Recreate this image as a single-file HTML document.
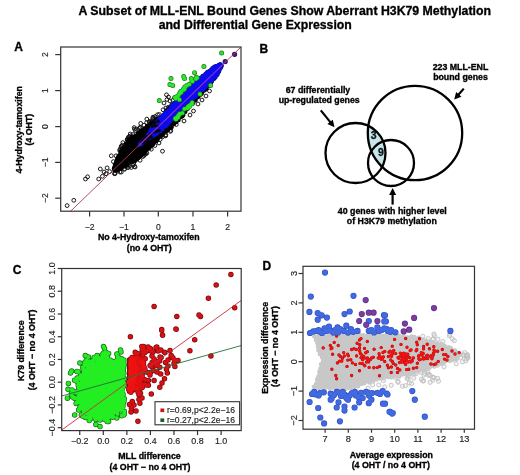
<!DOCTYPE html>
<html><head><meta charset="utf-8"><style>
html,body{margin:0;padding:0;background:#fff;width:520px;height:475px;overflow:hidden}
svg{display:block;will-change:transform}
text{font-family:"Liberation Sans", sans-serif}
</style></head><body><div id="w">
<svg width="520" height="475" viewBox="0 0 520 475">
<g><rect width="520" height="475" fill="#fff"/>
<text x="78.5" y="15" font-size="12.2" font-weight="bold" stroke="#000" stroke-width="0.32" text-anchor="start" fill="#000" textLength="412.5" lengthAdjust="spacingAndGlyphs">A Subset of MLL-ENL Bound Genes Show Aberrant H3K79 Methylation</text>
<text x="158.8" y="29.3" font-size="12.2" font-weight="bold" stroke="#000" stroke-width="0.32" text-anchor="start" fill="#000" textLength="193" lengthAdjust="spacingAndGlyphs">and Differential Gene Expression</text>
<text x="14.3" y="51.4" font-size="12" font-weight="bold" stroke="#000" stroke-width="0.32" text-anchor="start" fill="#000">A</text>
<text x="259.6" y="52.5" font-size="12" font-weight="bold" stroke="#000" stroke-width="0.32" text-anchor="start" fill="#000">B</text>
<text x="12.8" y="273.7" font-size="12" font-weight="bold" stroke="#000" stroke-width="0.32" text-anchor="start" fill="#000">C</text>
<text x="262.4" y="269.5" font-size="12" font-weight="bold" stroke="#000" stroke-width="0.32" text-anchor="start" fill="#000">D</text>
<path d="M174.4 124.5a1.9 1.9 0 1 0 3.8 0a1.9 1.9 0 1 0 -3.8 0M155.7 114.7a1.9 1.9 0 1 0 3.8 0a1.9 1.9 0 1 0 -3.8 0M128.3 134a1.9 1.9 0 1 0 3.8 0a1.9 1.9 0 1 0 -3.8 0M127.4 137.4a1.9 1.9 0 1 0 3.8 0a1.9 1.9 0 1 0 -3.8 0M151.1 117.2a1.9 1.9 0 1 0 3.8 0a1.9 1.9 0 1 0 -3.8 0M163.6 135.7a1.9 1.9 0 1 0 3.8 0a1.9 1.9 0 1 0 -3.8 0M168.5 131.4a1.9 1.9 0 1 0 3.8 0a1.9 1.9 0 1 0 -3.8 0M132.6 166.6a1.9 1.9 0 1 0 3.8 0a1.9 1.9 0 1 0 -3.8 0M149.4 149.2a1.9 1.9 0 1 0 3.8 0a1.9 1.9 0 1 0 -3.8 0M153 145.5a1.9 1.9 0 1 0 3.8 0a1.9 1.9 0 1 0 -3.8 0M152 118a1.9 1.9 0 1 0 3.8 0a1.9 1.9 0 1 0 -3.8 0M142.1 155.5a1.9 1.9 0 1 0 3.8 0a1.9 1.9 0 1 0 -3.8 0M122.7 169.2a1.9 1.9 0 1 0 3.8 0a1.9 1.9 0 1 0 -3.8 0M126.6 137.1a1.9 1.9 0 1 0 3.8 0a1.9 1.9 0 1 0 -3.8 0M160.6 136.9a1.9 1.9 0 1 0 3.8 0a1.9 1.9 0 1 0 -3.8 0M122.6 168.8a1.9 1.9 0 1 0 3.8 0a1.9 1.9 0 1 0 -3.8 0M126.2 167.3a1.9 1.9 0 1 0 3.8 0a1.9 1.9 0 1 0 -3.8 0M134.3 129.1a1.9 1.9 0 1 0 3.8 0a1.9 1.9 0 1 0 -3.8 0M164 108a1.9 1.9 0 1 0 3.8 0a1.9 1.9 0 1 0 -3.8 0M172.6 97.9a1.9 1.9 0 1 0 3.8 0a1.9 1.9 0 1 0 -3.8 0M132.6 129.1a1.9 1.9 0 1 0 3.8 0a1.9 1.9 0 1 0 -3.8 0M157.5 114.5a1.9 1.9 0 1 0 3.8 0a1.9 1.9 0 1 0 -3.8 0M126.1 167.5a1.9 1.9 0 1 0 3.8 0a1.9 1.9 0 1 0 -3.8 0M138.6 127.5a1.9 1.9 0 1 0 3.8 0a1.9 1.9 0 1 0 -3.8 0M161.2 109.8a1.9 1.9 0 1 0 3.8 0a1.9 1.9 0 1 0 -3.8 0M120.4 145.1a1.9 1.9 0 1 0 3.8 0a1.9 1.9 0 1 0 -3.8 0M127.5 166.3a1.9 1.9 0 1 0 3.8 0a1.9 1.9 0 1 0 -3.8 0M125.5 139.5a1.9 1.9 0 1 0 3.8 0a1.9 1.9 0 1 0 -3.8 0M138.2 160.3a1.9 1.9 0 1 0 3.8 0a1.9 1.9 0 1 0 -3.8 0M113 173.6a1.9 1.9 0 1 0 3.8 0a1.9 1.9 0 1 0 -3.8 0M132.3 127.6a1.9 1.9 0 1 0 3.8 0a1.9 1.9 0 1 0 -3.8 0M118.1 149.5a1.9 1.9 0 1 0 3.8 0a1.9 1.9 0 1 0 -3.8 0M148.9 121.1a1.9 1.9 0 1 0 3.8 0a1.9 1.9 0 1 0 -3.8 0M129.3 167.5a1.9 1.9 0 1 0 3.8 0a1.9 1.9 0 1 0 -3.8 0M141.1 156.5a1.9 1.9 0 1 0 3.8 0a1.9 1.9 0 1 0 -3.8 0M142.8 154.4a1.9 1.9 0 1 0 3.8 0a1.9 1.9 0 1 0 -3.8 0M163.7 135.8a1.9 1.9 0 1 0 3.8 0a1.9 1.9 0 1 0 -3.8 0M133.5 130.6a1.9 1.9 0 1 0 3.8 0a1.9 1.9 0 1 0 -3.8 0M157.1 143a1.9 1.9 0 1 0 3.8 0a1.9 1.9 0 1 0 -3.8 0M131 165.4a1.9 1.9 0 1 0 3.8 0a1.9 1.9 0 1 0 -3.8 0M153.2 116.5a1.9 1.9 0 1 0 3.8 0a1.9 1.9 0 1 0 -3.8 0M142.2 125.2a1.9 1.9 0 1 0 3.8 0a1.9 1.9 0 1 0 -3.8 0M119.3 146.2a1.9 1.9 0 1 0 3.8 0a1.9 1.9 0 1 0 -3.8 0M138.8 123.4a1.9 1.9 0 1 0 3.8 0a1.9 1.9 0 1 0 -3.8 0M128.6 136a1.9 1.9 0 1 0 3.8 0a1.9 1.9 0 1 0 -3.8 0M113.3 173.3a1.9 1.9 0 1 0 3.8 0a1.9 1.9 0 1 0 -3.8 0M137.5 128.5a1.9 1.9 0 1 0 3.8 0a1.9 1.9 0 1 0 -3.8 0M125.5 139.1a1.9 1.9 0 1 0 3.8 0a1.9 1.9 0 1 0 -3.8 0M130.9 134.5a1.9 1.9 0 1 0 3.8 0a1.9 1.9 0 1 0 -3.8 0M171 100.3a1.9 1.9 0 1 0 3.8 0a1.9 1.9 0 1 0 -3.8 0M168.9 130.5a1.9 1.9 0 1 0 3.8 0a1.9 1.9 0 1 0 -3.8 0M143.8 154a1.9 1.9 0 1 0 3.8 0a1.9 1.9 0 1 0 -3.8 0M133.2 167a1.9 1.9 0 1 0 3.8 0a1.9 1.9 0 1 0 -3.8 0M119.9 146.3a1.9 1.9 0 1 0 3.8 0a1.9 1.9 0 1 0 -3.8 0M166.4 107.3a1.9 1.9 0 1 0 3.8 0a1.9 1.9 0 1 0 -3.8 0M125.3 139.6a1.9 1.9 0 1 0 3.8 0a1.9 1.9 0 1 0 -3.8 0M150.9 118.5a1.9 1.9 0 1 0 3.8 0a1.9 1.9 0 1 0 -3.8 0M145 153.1a1.9 1.9 0 1 0 3.8 0a1.9 1.9 0 1 0 -3.8 0M147.5 122a1.9 1.9 0 1 0 3.8 0a1.9 1.9 0 1 0 -3.8 0M144.9 119.1a1.9 1.9 0 1 0 3.8 0a1.9 1.9 0 1 0 -3.8 0M158.2 139.5a1.9 1.9 0 1 0 3.8 0a1.9 1.9 0 1 0 -3.8 0M126.4 137.8a1.9 1.9 0 1 0 3.8 0a1.9 1.9 0 1 0 -3.8 0M164 134.8a1.9 1.9 0 1 0 3.8 0a1.9 1.9 0 1 0 -3.8 0M132 164.4a1.9 1.9 0 1 0 3.8 0a1.9 1.9 0 1 0 -3.8 0M147.6 121.7a1.9 1.9 0 1 0 3.8 0a1.9 1.9 0 1 0 -3.8 0M119.1 147.7a1.9 1.9 0 1 0 3.8 0a1.9 1.9 0 1 0 -3.8 0M118.1 172a1.9 1.9 0 1 0 3.8 0a1.9 1.9 0 1 0 -3.8 0M144.7 122.7a1.9 1.9 0 1 0 3.8 0a1.9 1.9 0 1 0 -3.8 0M138 127.4a1.9 1.9 0 1 0 3.8 0a1.9 1.9 0 1 0 -3.8 0M180.5 92.5a1.9 1.9 0 1 0 3.8 0a1.9 1.9 0 1 0 -3.8 0M65.2 205.6a1.9 1.9 0 1 0 3.8 0a1.9 1.9 0 1 0 -3.8 0M71.9 200.3a1.9 1.9 0 1 0 3.8 0a1.9 1.9 0 1 0 -3.8 0M85.7 176.8a1.9 1.9 0 1 0 3.8 0a1.9 1.9 0 1 0 -3.8 0M83.6 179a1.9 1.9 0 1 0 3.8 0a1.9 1.9 0 1 0 -3.8 0M96.8 179a1.9 1.9 0 1 0 3.8 0a1.9 1.9 0 1 0 -3.8 0M98.4 169a1.9 1.9 0 1 0 3.8 0a1.9 1.9 0 1 0 -3.8 0M105.2 167.9a1.9 1.9 0 1 0 3.8 0a1.9 1.9 0 1 0 -3.8 0M109.4 155.8a1.9 1.9 0 1 0 3.8 0a1.9 1.9 0 1 0 -3.8 0M114.1 155.8a1.9 1.9 0 1 0 3.8 0a1.9 1.9 0 1 0 -3.8 0M111.5 161.6a1.9 1.9 0 1 0 3.8 0a1.9 1.9 0 1 0 -3.8 0M100.5 176.3a1.9 1.9 0 1 0 3.8 0a1.9 1.9 0 1 0 -3.8 0M104.1 173.7a1.9 1.9 0 1 0 3.8 0a1.9 1.9 0 1 0 -3.8 0M107.8 171.6a1.9 1.9 0 1 0 3.8 0a1.9 1.9 0 1 0 -3.8 0M112.6 173.7a1.9 1.9 0 1 0 3.8 0a1.9 1.9 0 1 0 -3.8 0M119.4 172.1a1.9 1.9 0 1 0 3.8 0a1.9 1.9 0 1 0 -3.8 0M117.8 150.5a1.9 1.9 0 1 0 3.8 0a1.9 1.9 0 1 0 -3.8 0M121 142.6a1.9 1.9 0 1 0 3.8 0a1.9 1.9 0 1 0 -3.8 0M116.1 162a1.9 1.9 0 1 0 3.8 0a1.9 1.9 0 1 0 -3.8 0M102.1 172a1.9 1.9 0 1 0 3.8 0a1.9 1.9 0 1 0 -3.8 0M160.6 151.2a1.9 1.9 0 1 0 3.8 0a1.9 1.9 0 1 0 -3.8 0M164.6 94.8a1.9 1.9 0 1 0 3.8 0a1.9 1.9 0 1 0 -3.8 0M166.6 97a1.9 1.9 0 1 0 3.8 0a1.9 1.9 0 1 0 -3.8 0M168.1 101a1.9 1.9 0 1 0 3.8 0a1.9 1.9 0 1 0 -3.8 0M170.1 104.5a1.9 1.9 0 1 0 3.8 0a1.9 1.9 0 1 0 -3.8 0M165.1 99.5a1.9 1.9 0 1 0 3.8 0a1.9 1.9 0 1 0 -3.8 0M162.1 103a1.9 1.9 0 1 0 3.8 0a1.9 1.9 0 1 0 -3.8 0M196.1 104a1.9 1.9 0 1 0 3.8 0a1.9 1.9 0 1 0 -3.8 0M200.1 100a1.9 1.9 0 1 0 3.8 0a1.9 1.9 0 1 0 -3.8 0M204.1 96a1.9 1.9 0 1 0 3.8 0a1.9 1.9 0 1 0 -3.8 0M207.6 91a1.9 1.9 0 1 0 3.8 0a1.9 1.9 0 1 0 -3.8 0M182.1 121a1.9 1.9 0 1 0 3.8 0a1.9 1.9 0 1 0 -3.8 0M188.1 115a1.9 1.9 0 1 0 3.8 0a1.9 1.9 0 1 0 -3.8 0M191.6 111a1.9 1.9 0 1 0 3.8 0a1.9 1.9 0 1 0 -3.8 0" fill="none" stroke="#181818" stroke-width="1.0"/>
<path d="M148.7 128.4h0M183.6 95.3h0M171.3 113.8h0M120.2 160.8h0M118 162.7h0M121.5 151.8h0M159.4 134.3h0M127.2 146.9h0M181.1 117h0M175.8 110.4h0M218.5 65.8h0M205.9 78.3h0M129.4 142h0M147 146.1h0M133.3 151.4h0M182.4 103.1h0M172.6 106.2h0M120.4 155.5h0M186.8 98.6h0M147.6 139.9h0M162.5 120.2h0M199 91.4h0M140.1 146.2h0M170.2 125.6h0M192.1 90.8h0M218.9 66h0M158.7 133.4h0M130.3 150.9h0M118.2 165.5h0M195.8 92.4h0M207.7 77h0M188.4 100.2h0M176 111.4h0M203.9 90.3h0M164.7 125.9h0M120.5 163.8h0M183.2 114.9h0M201.9 81.7h0M155.3 134.6h0M116.4 165.3h0M132 140.1h0M120.3 165.1h0M127.8 146.9h0M155.8 138.7h0M122.6 157.1h0M172.8 123.6h0M201.7 91.4h0M143.8 139h0M152.4 142.4h0M216.5 67.7h0M132.9 142.5h0M139 144.7h0M177 106.3h0M114.4 168.3h0M153.5 133.9h0M216 73.1h0M169.2 121.1h0M186.4 91.8h0M210.3 80.8h0M207.6 84.1h0M156 127.8h0M125.1 158.5h0M120.7 152.7h0M136.3 138.1h0M150.4 124.5h0M114 168.4h0M124.9 152.6h0M116.7 169.3h0M179.7 101.3h0M141 139.5h0M153 124h0M204.8 90.1h0M163.9 122.9h0M123.2 149.4h0M150.7 129.3h0M202.7 79.1h0M116.5 170.2h0M170.5 109.9h0M172.1 105.9h0M170.5 127.6h0M206.4 83.9h0M141.9 139.3h0M131.9 157.2h0M171 122.9h0M149.3 129.6h0M200.8 94.3h0M205.2 86.8h0M201.6 89.5h0M138.3 146.1h0M152 122.5h0M117 162.4h0M141.7 147.8h0M216.3 70.4h0M214.3 78.5h0M216.2 69.8h0M137.6 138.9h0M135 140.1h0M180.8 116.4h0M203.9 83h0M183.9 110h0M123.1 160.9h0M211.3 79.6h0M194.3 92.2h0M133.1 157h0M149.6 143.2h0M218 68.5h0M156.9 139.3h0M191.6 89.1h0M127.6 144.8h0M210.8 80.5h0M129.6 159.8h0M218.9 69.3h0M151.5 135.3h0M128 141h0M217.9 70.4h0M170.3 126.7h0M160.4 134.3h0M202.4 80.1h0M140.9 138.2h0M139.7 146.8h0M141.8 140.8h0M128 162.8h0M151.9 132.9h0M176.4 120.7h0M159 136.7h0M167.7 120.5h0M170 107.6h0M161.1 118.8h0M114.4 169.8h0M132.4 149.1h0M191.6 96.3h0M148.9 137h0M173.4 120.9h0M125.4 156.6h0M140.6 138.1h0M196.6 90.4h0M174.1 119.8h0M211.6 75h0M179.5 109.1h0M168.8 123h0M162.4 125.2h0M165.1 131.3h0M188.8 105.2h0M214.8 69.9h0M173.9 124h0M203.9 77.7h0M127 152.3h0M121.8 154.2h0M121.8 162.1h0M197.9 96h0M130.5 156.5h0M184.6 95.6h0M208.5 85.5h0M137.5 158.2h0M156.6 129.2h0M219.9 68.5h0M131.3 148.7h0M169.2 115.2h0M134.9 143.3h0M191.3 86.5h0M173.3 113.7h0M115.9 164.7h0M180.8 108.1h0M120.9 168.5h0M198.4 96.8h0M125.2 150h0M118.2 167h0M142.9 132.4h0M159.2 136.4h0M201.6 81.6h0M130 161.9h0M175.1 117.6h0M123.6 147.9h0M187.6 97.7h0M121.7 167.2h0M181.9 112.8h0M123 164.9h0M121.1 166.2h0M162.6 121h0M173.2 124.2h0M142.7 132.6h0M170.4 111.9h0M125.7 147.1h0M119.4 157.1h0M147.4 133.2h0M195.3 87.8h0M167.5 113.2h0M151.1 123.1h0M140.8 131.1h0M192.4 95.4h0M134.3 147.9h0M214 68.8h0M201.6 84.4h0M167 127.5h0M156.1 130.2h0M187.6 108.6h0M150.7 142.9h0M189.6 99.8h0M157.3 125.5h0M119.8 155.1h0M121.6 163.7h0M141.3 134.5h0M123 164.5h0M207.1 82.7h0M144.2 134.3h0M145.4 138.7h0M130.9 149.4h0M142.2 154.3h0M218.1 69.5h0M140.2 156.3h0M147.1 134.7h0M114.1 168.8h0M164.8 122.5h0M135.5 147.9h0M114.5 167.5h0M123.6 154.9h0M118.5 156.3h0M146.6 132.1h0M176.7 112.4h0M194.3 95.4h0M190.6 103.4h0M155.7 126.4h0M219.4 66.1h0M191.5 98h0M118.7 167.4h0M209.4 79.6h0M192.5 100.1h0M128.9 152.6h0M168 126.7h0M200.1 92.4h0M176.5 120.4h0M187.1 103.5h0M138.6 133.1h0M128.2 149.2h0M125.2 162.9h0M173.8 117.3h0M181 111.5h0M166.4 110.6h0M199.4 91.9h0M167.8 120.5h0M184.5 94.2h0M192.8 89.4h0M122 154.4h0M192 89.3h0M193.2 102.5h0M166.9 118.1h0M165.3 125.8h0M196.1 92.9h0M182.8 96.4h0M129.8 145.2h0M193.5 89.7h0M174.8 103.1h0M120.5 156.4h0M185.9 105h0M186.3 96.6h0M169.3 117.7h0M163.9 115.3h0M209.6 73.6h0M218.7 71.3h0M115.9 166h0M201.7 93.1h0M162.1 119.8h0M136.5 158.9h0M136.5 149.1h0M129.2 152.4h0M215.9 67.9h0M201.8 85.5h0M208.9 81.3h0M138.8 155.7h0M166 111.4h0M114.4 168.7h0M162.2 120.4h0M129.1 148h0M147.8 145.9h0M114.2 169.8h0M203.8 77.5h0M213.1 76.7h0M210.5 74.1h0M153.8 129.5h0M220.9 66.5h0M152.6 131.5h0M143.4 130h0M124.9 163.1h0M144.6 151.3h0M140.7 137.7h0M168.7 112.5h0M153.9 142.5h0M208.6 83.1h0M181.5 115.7h0M214.7 73.2h0M191 87.4h0M192.4 93.6h0M194.5 95h0M144.6 129.1h0M213.2 69.7h0M164.5 119.4h0M145.9 145.2h0M218.5 67.2h0M184.2 99.4h0M173.6 112.4h0M131.9 141.3h0M136.2 158.1h0M167.2 114.4h0M211 82.8h0M162.1 117.1h0M134.6 137.4h0M150.6 125.3h0M139.6 138.3h0M174.9 121.7h0M194.2 91.1h0M158.3 128.6h0M154.3 127.8h0M120.6 156.4h0M217.5 66.8h0M167.9 122.4h0M206.3 76.8h0M143 135.4h0M156.8 128.2h0M216.1 74.4h0M207.4 73h0M117.5 166.8h0M209.8 77.1h0M176.8 100.9h0M155.9 139.9h0M202.3 90.6h0M218 67.4h0M125.7 147h0M169.9 121.8h0M214.7 74.9h0M183.3 110.1h0M162.9 125.1h0M118.2 167h0M138.9 156.2h0M183.1 100.8h0M127.7 147.1h0M182.1 110.4h0M126 144.7h0M170.1 119.5h0M155.5 124.1h0M178.3 99.6h0M146.3 138h0M216.6 71.9h0M208.6 78.4h0M139.1 138.4h0M216.8 72.2h0M146.9 126.7h0M167.3 123.9h0M158.9 122.1h0M185.4 110.4h0M138.3 133.4h0M150.2 133.5h0M187 93.9h0M199.3 91.8h0M168 113.4h0M217.8 68.1h0M201.7 81h0M137.7 153h0M145.6 150.8h0M167 113.9h0M137.9 143.7h0M185.2 111.2h0M129.7 148.8h0M136.8 159.4h0M129.2 140.6h0M120.4 158.6h0M210.1 82.3h0M192.4 103.7h0M213.7 71.6h0M133.8 160.5h0M193.9 84.4h0M185.1 99.8h0M154 127.9h0M132.1 137h0M143.9 137.2h0M216.2 67.6h0M217.2 67.7h0M152.2 141.1h0M202 84.1h0M119.3 161.5h0M153.9 141.7h0M134.7 144.7h0M210 71.1h0M158 135.3h0M196 82.6h0M117.7 158.4h0M212.4 71.9h0M194 100.2h0M150.3 129.9h0M216.5 71.8h0M142.1 148.1h0M147.9 132.1h0M114.4 169.7h0M212.1 76.9h0M214.9 67.4h0M139 144.4h0M216.4 74.9h0M155.4 124.9h0M160 126.4h0M213.3 70.2h0M199.9 91.2h0M202 89.5h0M179 105.8h0M148.2 133.9h0M197.7 81.9h0M135.1 154.9h0M140.5 132.7h0M117.6 164.7h0M148.9 148.2h0M208.5 85.7h0M142.3 131.7h0M124.3 156.2h0M189.9 95.9h0M139.1 142.9h0M180.4 111.9h0M194 99.2h0M185.1 94.6h0M204 80h0M174.7 111h0M193 88.3h0M140.5 137.3h0M130.4 160.8h0M175.9 108.8h0M156.4 140.9h0M168.3 113.7h0M200.5 89.1h0M220 65.9h0M164.8 129.1h0M203.9 89.8h0M118.3 160.3h0M126.8 146.6h0M218.1 69.7h0M213.5 72.3h0M206.7 79.9h0M141.8 149.9h0M215.2 68.1h0M177.8 113.3h0M137.3 142.9h0M129.1 144.4h0M141.3 145.8h0M183.7 97.9h0M115.2 166.2h0M186.6 94.2h0M147.4 130.7h0M199.1 88.7h0M120.8 153.1h0M156.3 130.9h0M182.4 97.2h0M131.5 155.4h0M157.8 123.6h0M146.9 149.5h0M147.4 139.6h0M152.2 131.5h0M206.5 88.3h0M152.9 125.7h0M191.9 89.4h0M114.6 170.2h0M159.3 134.2h0M157.5 137.4h0M163.3 116.6h0M115.6 167.3h0M182.6 114.2h0M123.5 159.7h0M153.7 132.3h0M129.6 146.1h0M169.8 127.1h0M125.6 154.7h0M200.1 94.8h0M135.1 138h0M214.9 77.4h0M165.7 112.3h0M213.1 72.9h0M210.8 78.1h0M202.2 79.4h0M198.1 84.1h0M157.3 136.7h0M202.7 79.4h0M137.3 143.7h0M169.4 115.9h0M127.2 147.5h0M191.6 102.7h0M118.4 163.9h0M195 83.4h0M203.7 77.5h0M178.1 111.4h0M181.1 103.3h0M158.9 129.3h0M159.6 130.5h0M161.8 123.7h0M116.5 166.8h0M166.4 115.5h0M195.7 96.2h0M163 117.2h0M164.6 114.4h0M127.7 151.4h0M123.8 155.6h0M168.6 109.4h0M182.1 97.3h0M192.5 99.5h0M168.7 109.5h0M167.9 117.1h0M215.7 68h0M205.7 89.1h0M192.3 100.4h0M134.7 161.3h0M166.6 130.4h0M212 71.1h0M198.4 96.1h0M121 157.2h0M194.9 85.8h0M209.9 74.4h0M201.3 80h0M167.7 128.7h0M136.3 140.8h0M168.1 115.7h0M117.9 159.5h0M131.3 161.8h0M186.7 107.9h0M132.1 157.4h0M126.3 155.1h0M182.1 103.2h0M207.4 80.8h0M176.1 120.6h0M125.2 166.5h0M181.4 104.8h0M199.4 83.7h0M220 67.5h0M152.5 139.4h0M161.3 118.5h0M193.6 85h0M201.7 81.4h0M182.4 115.9h0M176.7 115.3h0M147.5 125.8h0M117.6 159.7h0M179.9 107.2h0M168.9 127.2h0M128.1 146h0M183.9 94h0M114.3 168.4h0M125.4 151.9h0M138 148.1h0M177 105h0M180.8 107.3h0M128.4 163.2h0M140.1 135.2h0M124.3 159.3h0M207.2 84.3h0M157 123.9h0M115.2 168.4h0M174.2 110.9h0M183.1 103.7h0M214.3 75.6h0M140.6 154.3h0M118.7 163.1h0M157.4 122.9h0M120.2 165.3h0M115.3 167.6h0M214.7 68.7h0M135.3 150.8h0M168.2 122.4h0M201 80.7h0M147.1 133.4h0M119.2 167.9h0M197.8 92.9h0M114.7 169.9h0M193.7 92.5h0M193.4 92.6h0M138.2 135.3h0M138.9 133.1h0M149.9 141.6h0M188.4 105.1h0M190.2 92.2h0M173.3 113.6h0M198.4 89h0M142.4 145.9h0M217.3 67.7h0M208.2 72.3h0M141.9 136h0M193.6 101.4h0M193.8 89.8h0M208.2 76.7h0M139.6 155.3h0M181.5 111.1h0M185.2 111.8h0M164.2 130h0M188.6 105h0M160.8 130.8h0M175 109.2h0M136.7 150.1h0M122.3 166.4h0M129.5 139.7h0M125.4 164.9h0M150.9 126.2h0M117.1 159.6h0M188.1 101.3h0M188.6 102.8h0M121 161.4h0M152.9 140.3h0M201.7 91.8h0M121.1 166.3h0M211.8 81h0M125.5 148.4h0M126 143.9h0M204.7 87.4h0M181.9 113.4h0M181.6 102.3h0M124.7 147h0M195 86.5h0M148.1 135.4h0M116.2 163.5h0M144.2 146.1h0M153.4 128.2h0M217.1 70.1h0M205.1 84h0M117.3 163.4h0M160.7 131.9h0M151.1 139.4h0M171.6 110.4h0M206.3 74.9h0M201.7 80h0M114.1 168.2h0M195.6 100h0M114.5 168.5h0M166.6 127.1h0M133.7 148.8h0M151.1 142.4h0M141.9 154.1h0M144.4 133.4h0M188.8 97.9h0M125.8 158h0M122.7 163.7h0M188.6 103.7h0M181.2 104.2h0M156.9 126.9h0M209.3 72.4h0M209.1 71.7h0M136.1 141h0M210.4 76.9h0M154.6 140.2h0M139 144.1h0M170.9 122.5h0M194.6 95h0M151.3 130.3h0M130.6 159.7h0M184.8 107.5h0M132.1 148.4h0M196.8 91.6h0M127.5 152.4h0M208.7 75h0M134.5 143.1h0M189.2 104.2h0M130.5 142.2h0M140.5 139.4h0M169.9 110.8h0M149.1 128.9h0M218.3 70.4h0M124.9 166h0M124.9 153.1h0M219.3 69.5h0M192.5 93.2h0M135 151.9h0M125.4 148.5h0M155.6 119.8h0M156.7 136.1h0M188.2 98.6h0M181.7 105.9h0M129.2 154.4h0M157.3 134.4h0M211.2 75.3h0M175.4 118.3h0M159.1 121.4h0M191.3 102.7h0M196.8 93.6h0M205.2 84.8h0M182.6 104.5h0M147.5 141h0M124.5 154.3h0M197.7 93h0M181.4 101.8h0M159.3 126.2h0M180.5 106.1h0M186.3 109.3h0M133.6 153.1h0M197.3 87.7h0M166.4 130.9h0M118.1 164h0M131.2 157.8h0M214.6 72.8h0M124.8 157.4h0M171.9 120.8h0M168.8 121.8h0M202.7 84.8h0M157.9 138.4h0M136.5 151.9h0M156 136.1h0M127.1 165.2h0M152 123.2h0M143.4 138.9h0M115.4 166.5h0M159 131.8h0M151.7 128.4h0M138 152.2h0M214.6 73h0M137.4 154.3h0M155.9 123.5h0M127.8 159.7h0M200.6 88.7h0M164.2 124.2h0M138.2 158h0M151.8 137.2h0M201.6 90.7h0M164.1 118.8h0M172.7 107.5h0M203.2 81.7h0M205 78.7h0M154.2 125.9h0M159.6 120.1h0M114.3 169.6h0M144.1 134.4h0M146.3 138.4h0M159.8 129.7h0M184.5 100.2h0M213.4 78.1h0M120.1 166.3h0M210.9 80.1h0M129 160.2h0M181.7 96.3h0M115.2 170.5h0M184.2 98.3h0M124.9 147.7h0M139 152.3h0M151.1 126.3h0M210.7 80.4h0M132 160.2h0M179.1 115.5h0M185.5 109.6h0M198.3 94.5h0M135.1 153.3h0M170.8 122.3h0M160.9 134h0M173.4 109.8h0M139.1 135.6h0M166.8 111.4h0M164 115.7h0M166.6 120.8h0M171.7 124.1h0M114.7 169.9h0M164.1 124.3h0M185.2 109h0M154.1 129.9h0M216.8 66.9h0M182.2 108.9h0M117.1 166.1h0M187 108.2h0M149.4 147.8h0M168.6 118.7h0M210 71.1h0M190.8 98.3h0M150.2 144h0M153.2 132h0M170.2 123.4h0M136.5 145.2h0M159.2 128.5h0M202.5 81.4h0M202.6 83.1h0M167.9 114.9h0M168.2 129.4h0M184 109.6h0M149.4 131.7h0M146 141.3h0M181.9 112.4h0M118.3 166.2h0M208.8 79.2h0M119.3 158.7h0M114.7 166.8h0M212.6 76h0M184.4 109h0M211.4 77.4h0M180 111.3h0M188.5 100.2h0M186.9 94.4h0M185.4 101.1h0M195.6 84.1h0M133.4 136.9h0M196.9 97.4h0M184.2 100.8h0M202 89.8h0M174.1 109h0M146.3 137h0M148.1 135.7h0M182.7 114.5h0M119.8 162.2h0M118.2 158.2h0M200.7 87.6h0M212.3 74.4h0M115.5 166.1h0M177.3 120.5h0M218.9 68.1h0M158.1 119.3h0M183 99h0M130.2 138.8h0M114.5 169.3h0M127 164.8h0M123.4 164.9h0M127.8 141.3h0M191 91h0M192.5 88.5h0M119.4 166h0M190.4 103.2h0M192.1 87h0M181.3 111.7h0M163.3 132.8h0M141.2 155.3h0M190.7 86.9h0M115.6 168.1h0M201.5 78.8h0M147.3 143.7h0M131.8 159.5h0M166 112.1h0M153.3 134.2h0M160.9 129.6h0M129.5 159.1h0M152.9 136.3h0M181.4 105.3h0M155.3 137.3h0M215.1 75.1h0M174.6 109.2h0M120.5 168.5h0M189.2 103.8h0M149.5 138.5h0M218.6 70.8h0M178.3 106h0M159.9 135.2h0M154.3 135.9h0M178.4 118.6h0M200.4 83.1h0M114.2 168.3h0M159.2 129.2h0M201.3 92.2h0M118.5 167.5h0M200.9 92.3h0M175.2 108.3h0M205.1 86.9h0M187.3 107.6h0M151.1 124.7h0M173.2 121.4h0M135.4 154.5h0M213.7 70.5h0M178.9 113.4h0M163.8 117.2h0M141.3 149.7h0M198.7 87.6h0M123.4 163.6h0M196.6 85.5h0M176 120.9h0M208.7 79h0M165 124.1h0M134.2 140.4h0M133.3 154.5h0M152.8 134.5h0M157.1 129.5h0M129.9 139.8h0M220.7 66.4h0M125.4 158.2h0M198.2 82.8h0M177.9 107.2h0M169.6 108h0M117.6 170.1h0M206.7 80.5h0M174.7 108.5h0M197.4 88.3h0M215.3 74.7h0M201.6 93.1h0M141.2 131.4h0M135.5 139.2h0M123 148.7h0M173.6 122.6h0M163 133.4h0M211.4 70.4h0M178 108.3h0M126.8 164.7h0M141.5 144.7h0M182.5 115.2h0M185.7 99.4h0M162 117.6h0M217.3 73.8h0M137.7 133.9h0M141.4 139.3h0M210.6 82h0M203.6 76.5h0M198.1 92.5h0M183.2 114.8h0M120 155.1h0M194.8 100.1h0M186.4 96.6h0M177.3 116.7h0M125.3 151.3h0M141.5 133.4h0M165.5 114.9h0M139.5 135.4h0M186.5 90.9h0M190.7 90.3h0M117.9 169.2h0M137.6 157.7h0M206.7 86.4h0M129 150.7h0M124.4 165.5h0M204.1 85.1h0M162.4 121.1h0M202.1 84.7h0M181.2 99.6h0M137.7 134.3h0M190.4 97.5h0M129.5 161h0M142.5 139.9h0M130.7 145h0M203.8 80.8h0M132 149.8h0M148 147.2h0M126.2 165.6h0M120.1 167.4h0M185.5 96h0M165.1 117.7h0M141.6 135.3h0M153 144.3h0M220.8 67h0M124.4 151.5h0M209.9 71.5h0M191.7 91.2h0M218.7 65.5h0M200.4 84.1h0M129 139.5h0M203.1 84.6h0M133.9 147.1h0M211.6 72.2h0M175.1 105.5h0M133.3 156.4h0M190.1 90.9h0M122.5 150.2h0M179.1 109.3h0M143.3 134.1h0M179.5 113.5h0M200.8 87.6h0M135.6 136h0M192.4 92.7h0M191.2 87.3h0M200.7 83.6h0M204.1 88.9h0M166.8 110.5h0M211.4 75.6h0M207.3 76.6h0M133.9 157.7h0M153.3 124.6h0M153.7 134.3h0M114.5 168.6h0M161.7 125.4h0M126.9 158.9h0M201.4 91.8h0M148.3 142.2h0M154.8 136.9h0M120.5 166.7h0M216.1 71.1h0M168.9 119.4h0M171.5 106.3h0M217.5 67.6h0M133.5 138.6h0M140.8 151.8h0M117.2 159.9h0M188.8 92.2h0M115.9 167.3h0M175.7 113.2h0M189.2 90h0M207 83.5h0M118.8 157h0M166.8 120.7h0M143.9 131.5h0M157.4 120.7h0M177.3 118.9h0M129.8 153.3h0M193.9 86.8h0M202.4 91.8h0M155.6 128.6h0M203.9 83.8h0M156.3 139.8h0M197.1 86.9h0M139.7 140.2h0M160.6 136.5h0M200.1 93.9h0M201.2 91.6h0M119.7 161.5h0M216.5 74.6h0M140.7 141.7h0M181.7 103.8h0M170.8 108h0M160.3 126.4h0M116.2 162.3h0M217.8 71.5h0M214.3 74.5h0M200.6 92.9h0M208.7 72.2h0M182.6 100.5h0M186.6 95.9h0M172 125.1h0M180.5 102.7h0M169.7 116.7h0M215.7 69.5h0M146.7 142.2h0M126.9 156.1h0M216.3 71.1h0M142.7 141.2h0M171.1 109.4h0M127.3 144.7h0M145.4 137.4h0M144.8 133.8h0M123.4 158.2h0M203.9 85.1h0M175 116.6h0M135.5 153.4h0M163.3 124.7h0M179.6 108.3h0M147.2 131.8h0M137.7 146.4h0M155 132.9h0M115.3 166.3h0M206.2 77.2h0M173.6 114.5h0M144.5 152.7h0M145.6 146.3h0M131 139.6h0M207.2 79.3h0M120.6 158.3h0M161.1 130.7h0M125.7 148.6h0M216.6 72.7h0M130.5 146.8h0M151.7 138.1h0M179.9 116.1h0M201.9 85.6h0M193 98.3h0M195.3 91.1h0M198 92.6h0M211.9 70.8h0M207.2 72.9h0M195.9 92.5h0M167.3 130h0M175.2 111.4h0M197.9 95.6h0M179 106.9h0M162.4 123.6h0M191.4 91.6h0M155.8 131.5h0M155.1 126.7h0M198.2 94.8h0M167.5 118.9h0M133.7 143.8h0M129.5 153.5h0M176.2 103.3h0M212.5 72.7h0M204.2 88.3h0M216.6 68.1h0M159.6 135.9h0M115.1 164.6h0M174.4 113.8h0M212.5 78.2h0M171.6 127h0M169.4 118.8h0M187.3 97.3h0M152.3 135.7h0M151.6 144.7h0M186.4 101.1h0M124.6 153.2h0M156.9 130.7h0M175.4 121.1h0M217.2 69.9h0M161.1 128.3h0M220.6 66.4h0M170.7 123.9h0M132.3 145.1h0M218.7 70.6h0M168.8 110.6h0M209.7 80.2h0M201.8 93.3h0M209 77.2h0M130.7 145.5h0M168.7 119h0M134.1 140.2h0M181.4 109.2h0M151.8 145.6h0M182.1 96.5h0M158 134.7h0M146.8 143.2h0M114.4 167.9h0M204.1 84.5h0M185.5 95.7h0M167.3 121.4h0M142.5 146h0M170.9 127.7h0M175.5 111h0M127 145.6h0M195.3 84.5h0M124.7 148.5h0M169.9 124.8h0M179.6 115.5h0M120.6 151.7h0M196.5 87.3h0M190.6 93.5h0M132.1 143.9h0M124.6 164.8h0M176.3 108.9h0M162.1 122.3h0M119.9 167.5h0M176.3 121.9h0M161 128.3h0M140.7 132h0M213.6 77.8h0M147.7 147.4h0M201.3 82.6h0M178.5 119.9h0M167 129.9h0M140 141.5h0M190.9 90.7h0M147.1 147.5h0M165.8 127.6h0M140 135.8h0M152.3 126h0M218 67.8h0M174.1 106h0M171.1 114.4h0M157.1 119.3h0M127.2 161.3h0M151.6 128h0M134.5 142.7h0M139.4 132.7h0M185.1 99.1h0M130.7 156.1h0M123.9 151.8h0M203.3 78h0M161.4 132.6h0M200.1 81.2h0M151.8 139.2h0M154.3 142.2h0M136.3 159.2h0M168 113.8h0M162.4 116.6h0M189.6 92.7h0M210.3 78.2h0M153.4 126.5h0M179.1 103.3h0M207.3 74.5h0M168.9 119.7h0M142.9 148.7h0M155.2 134.4h0M174.7 109.5h0M155.7 120.8h0M132.9 158.7h0M148.4 141h0M125.7 156.4h0M152.7 133.1h0M145.8 128.6h0M147.3 131.4h0M127.5 158.5h0M144.2 138.3h0M211.3 79.6h0M208.5 84h0M128.1 147.2h0M117.2 166.7h0M185 99.4h0M158.1 131.7h0M188.8 93.2h0M204.6 80.4h0M181.3 100.4h0M126.3 164h0M192.5 98.3h0M118.3 156.8h0M131.3 142.7h0M146.4 135.9h0M118.2 160.8h0M182.3 99.1h0M203.8 84.5h0M190.7 91.5h0M160.5 130.1h0M151.3 122.5h0M203.3 88.3h0M144.6 128.9h0M205.4 83.6h0M119.1 158.3h0M125.9 161.4h0M136.5 158.1h0M194.2 85.1h0M188.3 96.4h0M194 98.9h0M144.1 130.5h0M215.3 71.2h0M213.5 76h0M193 99.9h0M181.2 106.3h0M119.8 164.4h0M159.8 127h0M213.3 69.6h0M195.5 83.1h0M189.2 103.5h0M141.9 143.9h0M217.7 70.5h0M172.2 110.6h0M120.4 158.1h0M158 121.6h0M147.2 129.2h0M189.6 100.4h0M139.5 138h0M169.1 117.4h0M214.1 71.5h0M146 148.7h0M129.2 153.4h0M149.7 143.4h0M172.7 121.1h0M132.1 154.3h0M178.1 109.6h0M196 96.9h0M126.2 149.5h0M152.6 126.3h0M120.5 156.7h0M135.1 153.5h0M161.9 116.6h0M148.7 136h0M152.8 125.1h0M121.7 150h0M220.2 67.8h0M123 162.1h0M218.9 68.7h0M125.6 154.7h0M160.5 119.5h0M172.1 105.5h0M212.4 76.7h0M181.2 116.7h0M183.8 98.8h0M140.3 134.7h0M117 168h0M203.8 80.2h0M133.9 152.5h0M204.5 89.4h0M132 157.4h0M202.9 88.2h0M149 128.9h0M202.3 81.9h0M153.4 133.6h0M153.5 140h0M139.6 132.7h0M174.7 116.4h0M201.7 88.8h0M210.9 82.2h0M166.9 120.6h0M130.9 145.6h0M176.2 103.2h0M187.6 92.7h0M161.4 135.4h0M123.6 147.5h0M161 119h0M191.4 86.1h0M204 88.8h0M198.2 87.5h0M144.3 144.7h0M169.1 117h0M150.2 133.9h0M185.3 108.6h0M210.7 72.2h0M145.6 138.1h0M174.3 110.8h0M134.9 137h0M148.6 135.9h0M217.9 72.2h0M206.6 87.8h0M216.9 71.3h0M200.8 79h0M186.4 102.8h0M145.8 141.1h0M216 71.1h0M183.3 100.5h0M150.7 144.1h0M117 161.4h0M186.6 99.3h0M123.1 160.8h0M153.8 133.9h0M158.6 128.5h0M174.4 111.7h0M126.2 147h0M209.2 78.8h0M126 163h0M141.1 132.9h0M170.8 111.9h0M166.4 122.2h0M138.2 147.6h0M126.1 154.9h0M177 102.4h0M157.7 119.1h0M161 133.5h0M172.9 119.9h0M195 84.9h0M220 68h0M124.9 163h0M155.9 122.6h0" stroke="#000" stroke-width="4.6" stroke-linecap="round"/>
<path d="M190.2 97.3h0M167.2 112.1h0M153.2 128.1h0M202.6 77.5h0M206.4 78.8h0M184.1 100.6h0M185.5 100.4h0M189.2 92.6h0M200.5 81.6h0M198.1 90.8h0M203.4 79.9h0M203.1 89.4h0M177.2 103.7h0M182.9 106.6h0M151.2 129.8h0M179 106.8h0M203.2 80.8h0M220.7 65.3h0M201.8 78.2h0M142.8 141.7h0M151.4 129.9h0M181.1 103.2h0M155.2 133.8h0M170.1 109.7h0M154.9 132h0M215.1 68.2h0M142.9 141.6h0M203.5 78.8h0M220.1 66.7h0M192 90.4h0M205.3 80.3h0M166.7 123.8h0M149.2 136.4h0M145.8 138.8h0M173.1 115.8h0M145.4 139.2h0M186.2 96.3h0M214.9 76.5h0M191.3 89.3h0M160.9 120.8h0M175.6 104.8h0M157 130.5h0M192.6 89.2h0M221 65.6h0M186.6 92.4h0M210.4 80.9h0M162.1 126h0M207.1 76.3h0M167.4 117.3h0M212.7 70.2h0M195.8 90.6h0M177.2 107.7h0M212 71.3h0M212.1 73h0M203.7 87.3h0M155.3 133h0M221.1 65.7h0M142.5 141.9h0M149.5 137.4h0M141.3 143.1h0M214.3 68.7h0M200.1 79.7h0M154.2 132.1h0M147.8 136.4h0M214.9 74.2h0M211.9 80.5h0M143.2 141.3h0M159.5 128.8h0M196.3 82.2h0M181.4 98.6h0M175.4 103.5h0M142.1 142.3h0M220.8 65.6h0M211.7 70.5h0M180 98.8h0M175.2 104.6h0M196 84h0M200.3 85.2h0M149.6 134.2h0M180.7 108.6h0M168.8 112h0M218.9 70.5h0M199.7 82.5h0M154.9 127.3h0M146.1 138.2h0M181.7 100.6h0M185.6 96.2h0M141.4 143h0M196.2 91h0M184.6 99.7h0M196.4 95.4h0M211.3 78.1h0M172.8 109h0M174.5 115.7h0M171.9 111h0M173.7 105.8h0M221.4 65.7h0M140.9 143.4h0M189.7 100.5h0M161.1 125.1h0M171 109.9h0M156.6 123.6h0M208.8 81.6h0M214.1 67.8h0M196.7 85.9h0M192.8 92.5h0M166.1 125.5h0M140.6 143.8h0M200.9 89.6h0M181.8 103h0M221.1 65.6h0M191.5 96.4h0M171.2 116h0M172.4 112.2h0M190.1 96.7h0M166.6 120.1h0M184.5 95.2h0M190.1 90.9h0M214.1 72.4h0M198.9 86.7h0M179.1 100.9h0M152 136.1h0M183.3 100.5h0M183.2 104.5h0M159.8 120.7h0M207.1 78.8h0M192.4 96.9h0M212.9 78h0M144 140.5h0M171.4 117.4h0M206.7 74.5h0M153 129.3h0M148.8 135.2h0M205.6 80.9h0M177.2 101.3h0M172.5 118.2h0M196.8 87.6h0M179.2 108.5h0M202 78.8h0M195.6 87.5h0M182.7 97.2h0M170.5 111.8h0M171.4 106.6h0M156.8 128.5h0M145.2 139.3h0M155 131.8h0M162.7 119.8h0M160.1 128.8h0M147.9 137.1h0M210.1 72.8h0M174.8 113h0M190.5 92h0M144.1 140.4h0M176.3 105.8h0M198.2 84.1h0M173.5 112.5h0M206.2 78.1h0M171.7 113.7h0M215.4 68.3h0M219.2 68.9h0M170.7 116h0M167.2 111.7h0M201.7 82.2h0M183.1 100.3h0M213.5 76.1h0M142.6 141.9h0M188.5 95.1h0M177.9 110.4h0M174.1 109.6h0M212.6 73.5h0M180.3 103.5h0M207.3 81.4h0M200.5 83.6h0M143.8 140.7h0M195.6 90.2h0M202.8 86.7h0M150.1 132.9h0M146.7 138.2h0M148.7 134.3h0M201.5 85h0M145 139.6h0M195.7 92.3h0M179.6 98.1h0M196.5 87.4h0M187.8 103.1h0M206.7 84.7h0M152.3 130.8h0M182.5 94.3h0M220.6 65.5h0M161.7 120.6h0M161.2 128.3h0M185.5 98.3h0M174.5 103.7h0M165.2 125.1h0M205.5 85.5h0M161.3 119.6h0M144.7 139.8h0M184 97.7h0M178.1 105.6h0M187.8 94.3h0M205.4 76.7h0M215 72.4h0M144.6 139.9h0M166 119.5h0M173.6 111.3h0M166.7 115.1h0M205 78.3h0M198.1 91.4h0M188.5 95h0M216.2 70.1h0M211.6 69.8h0M175.6 110.1h0M144.5 140h0M210.4 70.9h0M188.8 90.9h0M215.2 72.3h0M205.4 80.8h0M195.1 92.3h0M164.4 116.6h0M208.4 73.5h0M214.8 68.9h0M148.7 134.4h0M204 88.1h0M174.1 112h0M161.4 128.7h0M196.1 84.1h0M145.1 139.4h0M196.9 81.8h0M208.2 75.6h0M159.3 126.3h0M166.3 119.5h0M153 135.2h0M166.8 122.8h0M152.8 134.3h0M219.9 66.4h0M143.2 141.3h0M171.3 115h0M158.6 126.5h0M148.1 136.4h0M199.5 84.9h0M195.5 84h0M207.6 73.8h0M215.3 76.7h0M216.6 70.5h0M164.1 118.9h0M201.3 84.3h0M215.8 67h0M179.8 108.8h0M188.9 95.8h0M147.7 136.1h0M162.5 127.7h0M209 74.1h0M215.4 66.7h0M189 101.7h0M168.4 122.4h0M193.7 84.7h0M167.5 116.6h0M160.5 127.3h0M155 132.4h0M164.7 114.4h0M185.8 92.3h0M185.2 102.4h0M188.7 94.8h0M143.2 141.2h0M182.1 96h0M192.9 86.6h0M187.3 94.6h0M170.9 115.7h0M153.8 127.6h0M216.8 68.5h0M208.7 82.8h0M179.4 99.6h0M148.1 137.6h0M150 134.6h0M183.9 94.3h0M178.4 100.9h0M183.9 99.7h0M170.2 110.3h0M173.2 107.1h0M150.8 132h0M211.1 75.6h0M212.6 68.5h0M216.9 69.9h0M204.6 82.4h0M196.3 84.9h0M201.3 79.5h0M161.9 116.8h0M172.4 112.1h0M164.1 126.3h0M147.3 137.4h0M159.4 126.4h0M204 84.9h0M145.5 139h0M160.4 125.6h0M220.1 64.6h0M190.6 96.5h0M206.5 77.7h0M206.2 79.6h0M215.1 66.7h0M216.7 69.4h0M173.5 105.4h0M160.3 127.3h0M195.5 84.6h0M168.4 111.4h0M156.6 124.8h0M167.3 124.1h0M221.3 65.8h0M179.4 104.3h0M203.6 87.9h0M201.4 86.2h0M156.6 129.3h0M209 81.4h0M148 137.2h0M168.8 111.3h0M218.7 69.3h0M200.9 79.5h0M207.6 84.7h0M213.8 75.7h0M207.9 82.6h0M188.3 94.8h0M207.3 82.9h0M211 73.2h0M218.3 68.8h0M217.1 66.2h0M218.9 69.8h0M160.9 128.2h0M159.3 121.6h0M177.6 102.8h0M180.4 108.7h0M196 92h0M172.3 115.7h0M204.8 83.8h0M216.8 73.2h0M173.4 105.4h0M193.4 96.1h0M168 118h0M208.2 82.2h0M140.9 143.5h0M180.1 97.1h0M149.5 136.6h0M174.4 111h0M177.6 104.1h0M157.8 125h0M208.9 79.3h0M164.2 115.2h0M162.5 125.1h0M176.3 109.7h0M205.9 75.2h0M195.8 82.7h0M207.2 75h0M162.5 128.5h0M169.9 111h0M212.6 75.5h0M212.9 72.7h0M181 108.8h0M181.5 108.7h0M155.8 132.2h0M153.6 131.1h0M140.5 143.8h0M154.7 134.3h0M177.3 110.6h0M160.8 122h0M148.7 136.1h0M210.3 76.5h0M171 119.1h0M212.9 75.8h0M146.6 138.1h0M176.5 113.4h0M169.8 116.9h0M191.7 91.1h0M182.8 103.1h0M214 72.8h0M170 120.9h0M145.1 139.4h0M208.1 80.9h0M185.7 97.3h0M201.3 89.7h0M199.5 89.4h0M143.3 141.1h0M166.8 113h0M217.7 72.6h0M152.2 133.1h0M187.2 90.4h0M172.3 115.2h0M192.5 89.1h0M202.3 80.6h0M184.6 97.9h0M219.7 67.8h0M205.7 82.9h0M171.3 119.2h0M198 89.9h0M163 117.4h0M187.1 101.3h0M204.8 79.2h0M151.8 132.8h0M211.6 71.1h0M200.3 80.5h0M165.8 113h0M164.6 118.8h0M218.8 71.2h0M155.7 126.8h0M216.9 67.1h0M166.5 117.6h0M149.3 134.2h0M172.4 110.4h0M218.6 66.6h0M157 132.2h0M177 111.3h0M192.1 96.4h0M166 114.1h0M201.8 83.4h0M185.8 100.3h0M201.5 81h0M169.9 120.3h0M183.4 97.2h0M191.5 89.6h0M203 76.5h0M207.5 79.9h0M169.1 121.4h0M162 119.5h0M146.2 138.4h0M201.6 86.6h0M173.9 114.1h0M149.5 134.1h0M192.7 98.5h0M191.8 95.4h0M203.2 81.2h0M216.7 72.6h0M168.2 115.1h0M205.8 78.4h0M155.5 132.9h0M183.6 100.2h0M194.7 95.8h0M151.3 132h0M145.8 138.7h0M181.2 107.2h0M194.6 91.4h0M173.2 111.9h0M162.7 126.8h0M204.4 86.3h0M152.7 133.3h0M201.6 84.1h0M213.3 78h0M200.7 89.4h0M193.1 97h0M151.1 134.9h0M197.5 89.2h0M162.8 116.3h0M189.4 99.4h0M162.6 118.4h0M158.6 121h0M195.3 96.4h0M205.5 78.8h0M197.2 81.9h0M208.4 75.8h0M140.8 143.6h0M191.5 88h0M162.8 116.2h0M176.6 108h0M205.9 74.1h0M207.5 73.7h0M158.7 127.5h0M168 114.4h0M186.5 93.4h0M204.8 77.3h0M208.5 82.2h0M184 93h0M203.5 75.9h0M181.4 101.2h0M145.6 138.9h0M191.5 96.1h0M187.9 94.7h0M182 102.8h0M158.8 130.2h0M221.2 66.1h0M218.4 67.2h0M220.4 64.7h0M179.2 99.6h0M177.3 109h0M197.9 86.7h0M168.2 112.3h0M173.1 108.2h0M156.2 130.8h0M182.3 100.4h0M156.5 130.2h0M156.4 125.4h0M185.9 100.6h0M219.3 69h0M217.3 73.5h0M199 89.4h0M145.6 139h0M157.2 121.7h0M210.4 79h0M191.5 89.6h0M169.3 110.8h0M191.7 99.8h0M165.3 113.4h0M154.7 128.4h0M213.3 76.9h0M177.4 101.3h0M149.1 133.9h0M203.5 82h0M220.7 67.2h0M204.9 80.9h0M207.1 74.3h0M149.3 135.6h0M181.6 98h0M160.9 117.7h0M214.1 75h0M217.1 74.4h0M175.9 111.1h0M171.6 116.8h0M208.7 73.1h0M141.5 142.8h0M157.8 127.7h0M171.2 106.7h0M207.8 82.5h0M178.1 99.7h0M212.5 74.6h0M146.2 138.2h0M191.1 98.8h0M179.7 105.8h0M157.2 124.3h0M213.9 71.6h0M148.9 136h0M150.7 131.9h0M177.5 107.5h0M192 95.5h0M176.1 102.2h0M199.2 79.9h0M178.6 103.8h0M195 92.9h0M159.9 126.6h0M196.6 88.1h0M152 135.9h0M189 89h0M159.8 130.9h0M159 124.3h0M204.3 86.1h0M191.8 96.1h0M143.6 140.9h0M148.1 137.9h0M205.5 74.4h0M144.4 140.1h0M160 130.1h0M158.3 128.3h0M215.9 72.4h0M215 69.4h0M152.9 127.3h0M201.8 78.3h0M219.3 68.7h0M155.6 132.1h0M153.7 130.9h0M149.1 136.8h0M212.6 79h0M140.7 143.7h0M209.5 77.9h0M207 79.4h0M190.7 95h0M205.3 75.1h0M144.9 139.6h0M184.7 96h0M172.7 105.2h0M200.8 78h0M207.7 82.9h0M177.6 101.3h0M193.2 87.4h0M175.3 103.7h0M219.6 67.5h0M169.1 110.1h0M199.6 90.7h0M209.2 72.2h0M170.3 111.6h0M202.3 78.6h0M189.6 101.3h0M202.8 76.2h0M146.6 137.6h0M196.6 89.9h0M182.6 100.3h0M173.5 112.1h0M193 97.5h0M199.8 89.8h0M214.4 76h0M198.6 80.1h0M195.6 94.3h0M175.4 113.5h0M155.1 134h0M176.3 110.3h0M161 121.2h0M168.7 113.6h0M148.2 136.3h0M220 67.6h0M216 73.5h0M208.3 84.8h0M201.5 81h0M160.7 122.9h0M142.2 142.2h0M159.2 130.2h0M215.1 70h0M202.9 86.7h0M212.6 77.6h0M183.6 94.4h0M207.4 76.6h0M191.3 91.3h0M184 105.9h0M153.6 131.2h0M193.1 92.1h0M216.5 69.5h0M214.5 74.3h0M218.9 65.2h0M157.7 124.3h0M213.9 67.6h0M161.6 126.1h0M220.7 65.2h0M176 110.4h0M196.4 92.1h0M201.5 80.6h0M161.3 117.3h0M196.5 84.5h0M161.5 129.3h0M192.6 93.3h0M193.6 92.5h0M196.8 85.5h0M145.7 138.9h0M141.7 142.7h0M169.8 110h0M149.6 134.9h0M219 69h0M162.6 125.9h0M154.9 125.5h0M165.1 118.7h0M196.4 87.9h0M199.5 80.2h0M216 69.3h0M207.9 72.3h0M207.6 75.2h0M209.8 80.8h0M194.8 86.9h0M141.3 143.1h0M155.9 133h0M153.3 132.7h0M188 98.2h0M155.1 125.7h0M148.4 137.8h0M171.5 114.8h0M186.6 93.3h0M145.7 138.7h0M209.6 72.3h0M218.5 67.4h0M199 81.2h0M204.3 78.3h0M170.2 114.7h0M149.5 133.8h0M205 78.2h0M171.3 116.5h0M158.6 122.2h0M158.2 124.9h0M170.1 116.3h0M178.7 110h0M144.6 139.9h0M194.3 95.3h0M159.5 119.3h0M176 102.9h0M177.8 108.9h0M148.1 135.4h0M179.3 100h0M159.2 124.7h0M150.1 132h0M169.8 114.4h0M216.4 71h0M146.3 138.1h0M200.8 85.6h0M211 81.4h0M210 71.7h0M216.9 70.2h0M159.9 120.6h0M210.5 72.6h0M147.2 136.9h0M215.4 71.1h0M199.7 79.7h0M177.2 104.3h0M157.1 129.2h0M169.8 109.7h0M220.2 66.5h0M155.1 124.4h0M193.4 91.5h0M142.5 141.9h0M178.6 108.4h0M184 95.8h0M180.9 104.1h0M193.2 86.5h0M205.6 86.6h0M200.5 90.1h0M170.3 119.6h0M155.2 126.4h0M188.9 100.8h0M147.1 137h0M143.4 141h0M176.1 103.2h0M156 131.2h0M187.7 102.4h0M173.1 113.4h0M141.5 142.9h0M217.3 67.1h0M179.1 104.7h0M217.3 69.5h0M220.8 66.3h0M158 130.5h0M156.9 133.3h0M177.5 102.8h0M218.4 67.2h0M173.5 108.6h0M194.7 83.5h0M170.8 109.2h0M207.6 72.2h0M189.7 91.2h0M177.3 107.4h0M198.2 82h0M160 119.9h0M218.3 65.9h0M151.6 133.1h0M187.6 101.8h0M145.1 139.4h0M159.5 121h0M187.9 95.4h0M173.6 115.5h0M194.1 95.8h0M218 67h0M216.8 69.2h0M144.7 139.8h0M214.6 68h0M141.9 142.5h0M164 118.1h0M218.8 70.5h0M174.5 109.9h0M209.3 81.4h0M193.4 91.5h0M149.9 133.2h0M193.8 92.2h0M205.4 86.2h0M218.5 66.1h0M146.7 138.4h0M186.7 92.7h0M196.6 85.1h0M159.7 123.3h0M182.9 103h0M146.4 138.3h0M191.1 93h0M194.9 94.2h0M141.3 143.1h0M179 107.1h0M197.9 89.4h0M155.1 134.1h0M204.1 78.2h0M175.4 114.5h0M157.3 126.1h0M218.4 71.5h0M159.3 128.2h0M169.6 117.1h0M202.6 78h0M158.5 122.6h0M162 116.7h0M151.5 132.3h0M174.6 104h0M187.7 102.5h0M187.2 94.7h0M197.6 86.7h0M154.7 129.6h0M141.9 142.5h0M195.3 84.9h0M170.4 120.2h0M202.6 87.8h0M192.5 94h0M197.6 94.2h0M156.4 131h0M164.9 116.8h0M207 80.7h0M209.3 82.2h0M188.2 91.6h0M141.7 142.7h0M183.8 102.7h0M162.6 116.6h0M140.9 143.5h0M154.5 131.9h0M140.8 143.5h0M159.1 122.6h0M198.1 94h0M142.1 142.3h0M149.8 137.1h0M219.1 65.5h0M167.7 117.4h0M166.4 117.4h0M179.3 101.2h0M145 139.6h0M147.3 136.6h0M147.9 137.1h0M196.9 84.8h0M204.6 84.5h0M168.2 116.4h0M155.8 133.3h0" stroke="#12129a" stroke-width="5.0" stroke-linecap="round"/>
<path d="M190.2 97.3h0M167.2 112.1h0M153.2 128.1h0M202.6 77.5h0M206.4 78.8h0M184.1 100.6h0M185.5 100.4h0M189.2 92.6h0M200.5 81.6h0M198.1 90.8h0M203.4 79.9h0M203.1 89.4h0M177.2 103.7h0M182.9 106.6h0M151.2 129.8h0M179 106.8h0M203.2 80.8h0M220.7 65.3h0M201.8 78.2h0M142.8 141.7h0M151.4 129.9h0M181.1 103.2h0M155.2 133.8h0M170.1 109.7h0M154.9 132h0M215.1 68.2h0M142.9 141.6h0M203.5 78.8h0M220.1 66.7h0M192 90.4h0M205.3 80.3h0M166.7 123.8h0M149.2 136.4h0M145.8 138.8h0M173.1 115.8h0M145.4 139.2h0M186.2 96.3h0M214.9 76.5h0M191.3 89.3h0M160.9 120.8h0M175.6 104.8h0M157 130.5h0M192.6 89.2h0M221 65.6h0M186.6 92.4h0M210.4 80.9h0M162.1 126h0M207.1 76.3h0M167.4 117.3h0M212.7 70.2h0M195.8 90.6h0M177.2 107.7h0M212 71.3h0M212.1 73h0M203.7 87.3h0M155.3 133h0M221.1 65.7h0M142.5 141.9h0M149.5 137.4h0M141.3 143.1h0M214.3 68.7h0M200.1 79.7h0M154.2 132.1h0M147.8 136.4h0M214.9 74.2h0M211.9 80.5h0M143.2 141.3h0M159.5 128.8h0M196.3 82.2h0M181.4 98.6h0M175.4 103.5h0M142.1 142.3h0M220.8 65.6h0M211.7 70.5h0M180 98.8h0M175.2 104.6h0M196 84h0M200.3 85.2h0M149.6 134.2h0M180.7 108.6h0M168.8 112h0M218.9 70.5h0M199.7 82.5h0M154.9 127.3h0M146.1 138.2h0M181.7 100.6h0M185.6 96.2h0M141.4 143h0M196.2 91h0M184.6 99.7h0M196.4 95.4h0M211.3 78.1h0M172.8 109h0M174.5 115.7h0M171.9 111h0M173.7 105.8h0M221.4 65.7h0M140.9 143.4h0M189.7 100.5h0M161.1 125.1h0M171 109.9h0M156.6 123.6h0M208.8 81.6h0M214.1 67.8h0M196.7 85.9h0M192.8 92.5h0M166.1 125.5h0M140.6 143.8h0M200.9 89.6h0M181.8 103h0M221.1 65.6h0M191.5 96.4h0M171.2 116h0M172.4 112.2h0M190.1 96.7h0M166.6 120.1h0M184.5 95.2h0M190.1 90.9h0M214.1 72.4h0M198.9 86.7h0M179.1 100.9h0M152 136.1h0M183.3 100.5h0M183.2 104.5h0M159.8 120.7h0M207.1 78.8h0M192.4 96.9h0M212.9 78h0M144 140.5h0M171.4 117.4h0M206.7 74.5h0M153 129.3h0M148.8 135.2h0M205.6 80.9h0M177.2 101.3h0M172.5 118.2h0M196.8 87.6h0M179.2 108.5h0M202 78.8h0M195.6 87.5h0M182.7 97.2h0M170.5 111.8h0M171.4 106.6h0M156.8 128.5h0M145.2 139.3h0M155 131.8h0M162.7 119.8h0M160.1 128.8h0M147.9 137.1h0M210.1 72.8h0M174.8 113h0M190.5 92h0M144.1 140.4h0M176.3 105.8h0M198.2 84.1h0M173.5 112.5h0M206.2 78.1h0M171.7 113.7h0M215.4 68.3h0M219.2 68.9h0M170.7 116h0M167.2 111.7h0M201.7 82.2h0M183.1 100.3h0M213.5 76.1h0M142.6 141.9h0M188.5 95.1h0M177.9 110.4h0M174.1 109.6h0M212.6 73.5h0M180.3 103.5h0M207.3 81.4h0M200.5 83.6h0M143.8 140.7h0M195.6 90.2h0M202.8 86.7h0M150.1 132.9h0M146.7 138.2h0M148.7 134.3h0M201.5 85h0M145 139.6h0M195.7 92.3h0M179.6 98.1h0M196.5 87.4h0M187.8 103.1h0M206.7 84.7h0M152.3 130.8h0M182.5 94.3h0M220.6 65.5h0M161.7 120.6h0M161.2 128.3h0M185.5 98.3h0M174.5 103.7h0M165.2 125.1h0M205.5 85.5h0M161.3 119.6h0M144.7 139.8h0M184 97.7h0M178.1 105.6h0M187.8 94.3h0M205.4 76.7h0M215 72.4h0M144.6 139.9h0M166 119.5h0M173.6 111.3h0M166.7 115.1h0M205 78.3h0M198.1 91.4h0M188.5 95h0M216.2 70.1h0M211.6 69.8h0M175.6 110.1h0M144.5 140h0M210.4 70.9h0M188.8 90.9h0M215.2 72.3h0M205.4 80.8h0M195.1 92.3h0M164.4 116.6h0M208.4 73.5h0M214.8 68.9h0M148.7 134.4h0M204 88.1h0M174.1 112h0M161.4 128.7h0M196.1 84.1h0M145.1 139.4h0M196.9 81.8h0M208.2 75.6h0M159.3 126.3h0M166.3 119.5h0M153 135.2h0M166.8 122.8h0M152.8 134.3h0M219.9 66.4h0M143.2 141.3h0M171.3 115h0M158.6 126.5h0M148.1 136.4h0M199.5 84.9h0M195.5 84h0M207.6 73.8h0M215.3 76.7h0M216.6 70.5h0M164.1 118.9h0M201.3 84.3h0M215.8 67h0M179.8 108.8h0M188.9 95.8h0M147.7 136.1h0M162.5 127.7h0M209 74.1h0M215.4 66.7h0M189 101.7h0M168.4 122.4h0M193.7 84.7h0M167.5 116.6h0M160.5 127.3h0M155 132.4h0M164.7 114.4h0M185.8 92.3h0M185.2 102.4h0M188.7 94.8h0M143.2 141.2h0M182.1 96h0M192.9 86.6h0M187.3 94.6h0M170.9 115.7h0M153.8 127.6h0M216.8 68.5h0M208.7 82.8h0M179.4 99.6h0M148.1 137.6h0M150 134.6h0M183.9 94.3h0M178.4 100.9h0M183.9 99.7h0M170.2 110.3h0M173.2 107.1h0M150.8 132h0M211.1 75.6h0M212.6 68.5h0M216.9 69.9h0M204.6 82.4h0M196.3 84.9h0M201.3 79.5h0M161.9 116.8h0M172.4 112.1h0M164.1 126.3h0M147.3 137.4h0M159.4 126.4h0M204 84.9h0M145.5 139h0M160.4 125.6h0M220.1 64.6h0M190.6 96.5h0M206.5 77.7h0M206.2 79.6h0M215.1 66.7h0M216.7 69.4h0M173.5 105.4h0M160.3 127.3h0M195.5 84.6h0M168.4 111.4h0M156.6 124.8h0M167.3 124.1h0M221.3 65.8h0M179.4 104.3h0M203.6 87.9h0M201.4 86.2h0M156.6 129.3h0M209 81.4h0M148 137.2h0M168.8 111.3h0M218.7 69.3h0M200.9 79.5h0M207.6 84.7h0M213.8 75.7h0M207.9 82.6h0M188.3 94.8h0M207.3 82.9h0M211 73.2h0M218.3 68.8h0M217.1 66.2h0M218.9 69.8h0M160.9 128.2h0M159.3 121.6h0M177.6 102.8h0M180.4 108.7h0M196 92h0M172.3 115.7h0M204.8 83.8h0M216.8 73.2h0M173.4 105.4h0M193.4 96.1h0M168 118h0M208.2 82.2h0M140.9 143.5h0M180.1 97.1h0M149.5 136.6h0M174.4 111h0M177.6 104.1h0M157.8 125h0M208.9 79.3h0M164.2 115.2h0M162.5 125.1h0M176.3 109.7h0M205.9 75.2h0M195.8 82.7h0M207.2 75h0M162.5 128.5h0M169.9 111h0M212.6 75.5h0M212.9 72.7h0M181 108.8h0M181.5 108.7h0M155.8 132.2h0M153.6 131.1h0M140.5 143.8h0M154.7 134.3h0M177.3 110.6h0M160.8 122h0M148.7 136.1h0M210.3 76.5h0M171 119.1h0M212.9 75.8h0M146.6 138.1h0M176.5 113.4h0M169.8 116.9h0M191.7 91.1h0M182.8 103.1h0M214 72.8h0M170 120.9h0M145.1 139.4h0M208.1 80.9h0M185.7 97.3h0M201.3 89.7h0M199.5 89.4h0M143.3 141.1h0M166.8 113h0M217.7 72.6h0M152.2 133.1h0M187.2 90.4h0M172.3 115.2h0M192.5 89.1h0M202.3 80.6h0M184.6 97.9h0M219.7 67.8h0M205.7 82.9h0M171.3 119.2h0M198 89.9h0M163 117.4h0M187.1 101.3h0M204.8 79.2h0M151.8 132.8h0M211.6 71.1h0M200.3 80.5h0M165.8 113h0M164.6 118.8h0M218.8 71.2h0M155.7 126.8h0M216.9 67.1h0M166.5 117.6h0M149.3 134.2h0M172.4 110.4h0M218.6 66.6h0M157 132.2h0M177 111.3h0M192.1 96.4h0M166 114.1h0M201.8 83.4h0M185.8 100.3h0M201.5 81h0M169.9 120.3h0M183.4 97.2h0M191.5 89.6h0M203 76.5h0M207.5 79.9h0M169.1 121.4h0M162 119.5h0M146.2 138.4h0M201.6 86.6h0M173.9 114.1h0M149.5 134.1h0M192.7 98.5h0M191.8 95.4h0M203.2 81.2h0M216.7 72.6h0M168.2 115.1h0M205.8 78.4h0M155.5 132.9h0M183.6 100.2h0M194.7 95.8h0M151.3 132h0M145.8 138.7h0M181.2 107.2h0M194.6 91.4h0M173.2 111.9h0M162.7 126.8h0M204.4 86.3h0M152.7 133.3h0M201.6 84.1h0M213.3 78h0M200.7 89.4h0M193.1 97h0M151.1 134.9h0M197.5 89.2h0M162.8 116.3h0M189.4 99.4h0M162.6 118.4h0M158.6 121h0M195.3 96.4h0M205.5 78.8h0M197.2 81.9h0M208.4 75.8h0M140.8 143.6h0M191.5 88h0M162.8 116.2h0M176.6 108h0M205.9 74.1h0M207.5 73.7h0M158.7 127.5h0M168 114.4h0M186.5 93.4h0M204.8 77.3h0M208.5 82.2h0M184 93h0M203.5 75.9h0M181.4 101.2h0M145.6 138.9h0M191.5 96.1h0M187.9 94.7h0M182 102.8h0M158.8 130.2h0M221.2 66.1h0M218.4 67.2h0M220.4 64.7h0M179.2 99.6h0M177.3 109h0M197.9 86.7h0M168.2 112.3h0M173.1 108.2h0M156.2 130.8h0M182.3 100.4h0M156.5 130.2h0M156.4 125.4h0M185.9 100.6h0M219.3 69h0M217.3 73.5h0M199 89.4h0M145.6 139h0M157.2 121.7h0M210.4 79h0M191.5 89.6h0M169.3 110.8h0M191.7 99.8h0M165.3 113.4h0M154.7 128.4h0M213.3 76.9h0M177.4 101.3h0M149.1 133.9h0M203.5 82h0M220.7 67.2h0M204.9 80.9h0M207.1 74.3h0M149.3 135.6h0M181.6 98h0M160.9 117.7h0M214.1 75h0M217.1 74.4h0M175.9 111.1h0M171.6 116.8h0M208.7 73.1h0M141.5 142.8h0M157.8 127.7h0M171.2 106.7h0M207.8 82.5h0M178.1 99.7h0M212.5 74.6h0M146.2 138.2h0M191.1 98.8h0M179.7 105.8h0M157.2 124.3h0M213.9 71.6h0M148.9 136h0M150.7 131.9h0M177.5 107.5h0M192 95.5h0M176.1 102.2h0M199.2 79.9h0M178.6 103.8h0M195 92.9h0M159.9 126.6h0M196.6 88.1h0M152 135.9h0M189 89h0M159.8 130.9h0M159 124.3h0M204.3 86.1h0M191.8 96.1h0M143.6 140.9h0M148.1 137.9h0M205.5 74.4h0M144.4 140.1h0M160 130.1h0M158.3 128.3h0M215.9 72.4h0M215 69.4h0M152.9 127.3h0M201.8 78.3h0M219.3 68.7h0M155.6 132.1h0M153.7 130.9h0M149.1 136.8h0M212.6 79h0M140.7 143.7h0M209.5 77.9h0M207 79.4h0M190.7 95h0M205.3 75.1h0M144.9 139.6h0M184.7 96h0M172.7 105.2h0M200.8 78h0M207.7 82.9h0M177.6 101.3h0M193.2 87.4h0M175.3 103.7h0M219.6 67.5h0M169.1 110.1h0M199.6 90.7h0M209.2 72.2h0M170.3 111.6h0M202.3 78.6h0M189.6 101.3h0M202.8 76.2h0M146.6 137.6h0M196.6 89.9h0M182.6 100.3h0M173.5 112.1h0M193 97.5h0M199.8 89.8h0M214.4 76h0M198.6 80.1h0M195.6 94.3h0M175.4 113.5h0M155.1 134h0M176.3 110.3h0M161 121.2h0M168.7 113.6h0M148.2 136.3h0M220 67.6h0M216 73.5h0M208.3 84.8h0M201.5 81h0M160.7 122.9h0M142.2 142.2h0M159.2 130.2h0M215.1 70h0M202.9 86.7h0M212.6 77.6h0M183.6 94.4h0M207.4 76.6h0M191.3 91.3h0M184 105.9h0M153.6 131.2h0M193.1 92.1h0M216.5 69.5h0M214.5 74.3h0M218.9 65.2h0M157.7 124.3h0M213.9 67.6h0M161.6 126.1h0M220.7 65.2h0M176 110.4h0M196.4 92.1h0M201.5 80.6h0M161.3 117.3h0M196.5 84.5h0M161.5 129.3h0M192.6 93.3h0M193.6 92.5h0M196.8 85.5h0M145.7 138.9h0M141.7 142.7h0M169.8 110h0M149.6 134.9h0M219 69h0M162.6 125.9h0M154.9 125.5h0M165.1 118.7h0M196.4 87.9h0M199.5 80.2h0M216 69.3h0M207.9 72.3h0M207.6 75.2h0M209.8 80.8h0M194.8 86.9h0M141.3 143.1h0M155.9 133h0M153.3 132.7h0M188 98.2h0M155.1 125.7h0M148.4 137.8h0M171.5 114.8h0M186.6 93.3h0M145.7 138.7h0M209.6 72.3h0M218.5 67.4h0M199 81.2h0M204.3 78.3h0M170.2 114.7h0M149.5 133.8h0M205 78.2h0M171.3 116.5h0M158.6 122.2h0M158.2 124.9h0M170.1 116.3h0M178.7 110h0M144.6 139.9h0M194.3 95.3h0M159.5 119.3h0M176 102.9h0M177.8 108.9h0M148.1 135.4h0M179.3 100h0M159.2 124.7h0M150.1 132h0M169.8 114.4h0M216.4 71h0M146.3 138.1h0M200.8 85.6h0M211 81.4h0M210 71.7h0M216.9 70.2h0M159.9 120.6h0M210.5 72.6h0M147.2 136.9h0M215.4 71.1h0M199.7 79.7h0M177.2 104.3h0M157.1 129.2h0M169.8 109.7h0M220.2 66.5h0M155.1 124.4h0M193.4 91.5h0M142.5 141.9h0M178.6 108.4h0M184 95.8h0M180.9 104.1h0M193.2 86.5h0M205.6 86.6h0M200.5 90.1h0M170.3 119.6h0M155.2 126.4h0M188.9 100.8h0M147.1 137h0M143.4 141h0M176.1 103.2h0M156 131.2h0M187.7 102.4h0M173.1 113.4h0M141.5 142.9h0M217.3 67.1h0M179.1 104.7h0M217.3 69.5h0M220.8 66.3h0M158 130.5h0M156.9 133.3h0M177.5 102.8h0M218.4 67.2h0M173.5 108.6h0M194.7 83.5h0M170.8 109.2h0M207.6 72.2h0M189.7 91.2h0M177.3 107.4h0M198.2 82h0M160 119.9h0M218.3 65.9h0M151.6 133.1h0M187.6 101.8h0M145.1 139.4h0M159.5 121h0M187.9 95.4h0M173.6 115.5h0M194.1 95.8h0M218 67h0M216.8 69.2h0M144.7 139.8h0M214.6 68h0M141.9 142.5h0M164 118.1h0M218.8 70.5h0M174.5 109.9h0M209.3 81.4h0M193.4 91.5h0M149.9 133.2h0M193.8 92.2h0M205.4 86.2h0M218.5 66.1h0M146.7 138.4h0M186.7 92.7h0M196.6 85.1h0M159.7 123.3h0M182.9 103h0M146.4 138.3h0M191.1 93h0M194.9 94.2h0M141.3 143.1h0M179 107.1h0M197.9 89.4h0M155.1 134.1h0M204.1 78.2h0M175.4 114.5h0M157.3 126.1h0M218.4 71.5h0M159.3 128.2h0M169.6 117.1h0M202.6 78h0M158.5 122.6h0M162 116.7h0M151.5 132.3h0M174.6 104h0M187.7 102.5h0M187.2 94.7h0M197.6 86.7h0M154.7 129.6h0M141.9 142.5h0M195.3 84.9h0M170.4 120.2h0M202.6 87.8h0M192.5 94h0M197.6 94.2h0M156.4 131h0M164.9 116.8h0M207 80.7h0M209.3 82.2h0M188.2 91.6h0M141.7 142.7h0M183.8 102.7h0M162.6 116.6h0M140.9 143.5h0M154.5 131.9h0M140.8 143.5h0M159.1 122.6h0M198.1 94h0M142.1 142.3h0M149.8 137.1h0M219.1 65.5h0M167.7 117.4h0M166.4 117.4h0M179.3 101.2h0M145 139.6h0M147.3 136.6h0M147.9 137.1h0M196.9 84.8h0M204.6 84.5h0M168.2 116.4h0M155.8 133.3h0" stroke="#0b0bf0" stroke-width="3.8" stroke-linecap="round"/>
<path d="M144.7 138h0M139.8 145.3h0M142.6 142.7h0M140.8 144.8h0M147.6 135.4h0M145 138.2h0M146.5 139.3h0M147.5 136h0M139.1 145.8h0M144.8 138.3h0" stroke="#1a1ad0" stroke-width="2.6" stroke-linecap="round"/>
<path d="M144.7 140.2h0M143.1 141.7h0M145.6 137.7h0M149 135.9h0M154.8 122.6h0M154.8 125.5h0M146.5 138.9h0M154.1 132.1h0M158.1 121.3h0M146.9 138.8h0M146 136.7h0M145.3 140.5h0M156.7 131.3h0M159.2 130.6h0M146.9 136.5h0M154.7 123h0M152.6 126.2h0M141.9 142.5h0M143.9 141.9h0M157.7 126.2h0M144.8 138.2h0M150.6 134.2h0M147.9 138.4h0M151.1 136.9h0M143 140.6h0" stroke="#050510" stroke-width="3.5" stroke-linecap="round"/>
<path d="M221.6 53h0M203.9 66.5h0M194.6 72.7h0M183.7 76.6h0M184.5 78.6h0M171 78.6h0M169.9 84.5h0M172.7 85.4h0M159.3 100.5h0M191.3 78.6h0M210.6 85.4h0M179.5 99.7h0M200 94h0M183.3 89.2h0M180.1 92.5h0M179.3 94h0M185.4 86.8h0M192.5 81.3h0M184.7 87h0M196.4 77.3h0M176.5 96.8h0M189.3 84.3h0M174.9 97.6h0M195.8 78.8h0M185.2 87.2h0M181.2 92.4h0M192 80.9h0M184.5 88.9h0M183.5 89.8h0M197.1 77.8h0M180.9 91.3h0M177.2 96.7h0M175.7 98.4h0M186.8 85.4h0M178.1 95.7h0M188.3 106.6h0M179.8 113.8h0M177.9 117.6h0M175.3 118.6h0M187.8 108h0M191.1 104.3h0M192.1 103.7h0M178.8 115.6h0M187.3 108.1h0M175.6 118.2h0M192.2 102.6h0M189.3 105.6h0M178 115.9h0M182.4 113h0M176 119.3h0M179.4 114.2h0M187.9 106.7h0M176.8 117.5h0M189.4 106.6h0M184.5 108.9h0" stroke="#1f7a1f" stroke-width="5.0" stroke-linecap="round"/>
<path d="M221.6 53h0M203.9 66.5h0M194.6 72.7h0M183.7 76.6h0M184.5 78.6h0M171 78.6h0M169.9 84.5h0M172.7 85.4h0M159.3 100.5h0M191.3 78.6h0M210.6 85.4h0M179.5 99.7h0M200 94h0M183.3 89.2h0M180.1 92.5h0M179.3 94h0M185.4 86.8h0M192.5 81.3h0M184.7 87h0M196.4 77.3h0M176.5 96.8h0M189.3 84.3h0M174.9 97.6h0M195.8 78.8h0M185.2 87.2h0M181.2 92.4h0M192 80.9h0M184.5 88.9h0M183.5 89.8h0M197.1 77.8h0M180.9 91.3h0M177.2 96.7h0M175.7 98.4h0M186.8 85.4h0M178.1 95.7h0M188.3 106.6h0M179.8 113.8h0M177.9 117.6h0M175.3 118.6h0M187.8 108h0M191.1 104.3h0M192.1 103.7h0M178.8 115.6h0M187.3 108.1h0M175.6 118.2h0M192.2 102.6h0M189.3 105.6h0M178 115.9h0M182.4 113h0M176 119.3h0M179.4 114.2h0M187.9 106.7h0M176.8 117.5h0M189.4 106.6h0M184.5 108.9h0" stroke="#28e828" stroke-width="3.7" stroke-linecap="round"/>
<path d="M225.2 61.6h0M234.6 54.3h0" stroke="#2a1050" stroke-width="5.2" stroke-linecap="round"/>
<path d="M225.2 61.6h0M234.6 54.3h0" stroke="#4a1a8a" stroke-width="4.0" stroke-linecap="round"/>
<line x1="70.6" y1="211.2" x2="240.5" y2="47.5" stroke="#b03a50" stroke-width="0.9"/>
<line x1="140" y1="144.4" x2="222" y2="65.4" stroke="#8a28d8" stroke-width="1.2"/>
<rect x="60.7" y="47" width="180.3" height="164.2" fill="none" stroke="#333" stroke-width="1.2"/>
<line x1="89.6" y1="211.2" x2="89.6" y2="216.5" stroke="#333" stroke-width="1.2"/>
<text x="89.6" y="230.2" font-size="8.6" stroke="#222" stroke-width="0.15" text-anchor="middle" fill="#222">−2</text>
<line x1="124" y1="211.2" x2="124" y2="216.5" stroke="#333" stroke-width="1.2"/>
<text x="124" y="230.2" font-size="8.6" stroke="#222" stroke-width="0.15" text-anchor="middle" fill="#222">−1</text>
<line x1="158.3" y1="211.2" x2="158.3" y2="216.5" stroke="#333" stroke-width="1.2"/>
<text x="158.3" y="230.2" font-size="8.6" stroke="#222" stroke-width="0.15" text-anchor="middle" fill="#222">0</text>
<line x1="193" y1="211.2" x2="193" y2="216.5" stroke="#333" stroke-width="1.2"/>
<text x="193" y="230.2" font-size="8.6" stroke="#222" stroke-width="0.15" text-anchor="middle" fill="#222">1</text>
<line x1="227.6" y1="211.2" x2="227.6" y2="216.5" stroke="#333" stroke-width="1.2"/>
<text x="227.6" y="230.2" font-size="8.6" stroke="#222" stroke-width="0.15" text-anchor="middle" fill="#222">2</text>
<line x1="55.2" y1="54.6" x2="60.7" y2="54.6" stroke="#333" stroke-width="1.2"/>
<text transform="translate(48,54.6) rotate(-90)" font-size="8.6" stroke="#222" stroke-width="0.15" text-anchor="middle" fill="#222">2</text>
<line x1="55.2" y1="90.6" x2="60.7" y2="90.6" stroke="#333" stroke-width="1.2"/>
<text transform="translate(48,90.6) rotate(-90)" font-size="8.6" stroke="#222" stroke-width="0.15" text-anchor="middle" fill="#222">1</text>
<line x1="55.2" y1="126.6" x2="60.7" y2="126.6" stroke="#333" stroke-width="1.2"/>
<text transform="translate(48,126.6) rotate(-90)" font-size="8.6" stroke="#222" stroke-width="0.15" text-anchor="middle" fill="#222">0</text>
<line x1="55.2" y1="162.4" x2="60.7" y2="162.4" stroke="#333" stroke-width="1.2"/>
<text transform="translate(48,162.4) rotate(-90)" font-size="8.6" stroke="#222" stroke-width="0.15" text-anchor="middle" fill="#222">−1</text>
<line x1="55.2" y1="198.2" x2="60.7" y2="198.2" stroke="#333" stroke-width="1.2"/>
<text transform="translate(48,198.2) rotate(-90)" font-size="8.6" stroke="#222" stroke-width="0.15" text-anchor="middle" fill="#222">−2</text>
<text x="148.8" y="240.2" font-size="8.8" font-weight="bold" stroke="#000" stroke-width="0.32" text-anchor="middle" fill="#000">No 4-Hydroxy-tamoxifen</text>
<text x="149.2" y="250.8" font-size="8.8" font-weight="bold" stroke="#000" stroke-width="0.32" text-anchor="middle" fill="#000">(no 4 OHT)</text>
<text transform="translate(21.6,129.8) rotate(-90)" font-size="8.8" font-weight="bold" stroke="#000" stroke-width="0.32" text-anchor="middle" fill="#000">4-Hydroxy-tamoxifen</text>
<text transform="translate(32.4,129.7) rotate(-90)" font-size="8.8" font-weight="bold" stroke="#000" stroke-width="0.32" text-anchor="middle" fill="#000">(4 OHT)</text>
<defs><clipPath id="cl"><circle cx="355.5" cy="153" r="30"/></clipPath></defs>
<circle cx="415" cy="133" r="47.2" fill="#c8e6ea" clip-path="url(#cl)"/>
<circle cx="415" cy="133" r="47.2" fill="none" stroke="#000" stroke-width="2.3"/>
<circle cx="355.5" cy="153" r="30" fill="none" stroke="#000" stroke-width="2.3"/>
<circle cx="391" cy="163" r="23" fill="none" stroke="#000" stroke-width="2.3"/>
<text x="373.7" y="139.4" font-size="10.5" font-weight="bold" stroke="#0a161c" stroke-width="0.32" text-anchor="middle" fill="#0a161c">3</text>
<text x="380.8" y="155.6" font-size="10.5" font-weight="bold" stroke="#0a161c" stroke-width="0.32" text-anchor="middle" fill="#0a161c">9</text>
<line x1="320.8" y1="110.4" x2="330.72" y2="122.64" stroke="#000" stroke-width="2.2"/>
<polygon points="334.50,127.30 327.37,124.07 332.81,119.66" fill="#000"/>
<line x1="463.8" y1="88.6" x2="458.15" y2="95.08" stroke="#000" stroke-width="2.2"/>
<polygon points="454.20,99.60 456.17,92.02 461.44,96.63" fill="#000"/>
<line x1="392.6" y1="204.6" x2="392.60" y2="193.90" stroke="#000" stroke-width="2.2"/>
<polygon points="392.60,187.90 396.10,194.90 389.10,194.90" fill="#000"/>
<text x="318" y="93" font-size="8.8" font-weight="bold" stroke="#000" stroke-width="0.32" text-anchor="middle" fill="#000">67 differentially</text>
<text x="319.2" y="103.2" font-size="8.8" font-weight="bold" stroke="#000" stroke-width="0.32" text-anchor="middle" fill="#000">up-regulated genes</text>
<text x="460.5" y="70.3" font-size="8.8" font-weight="bold" stroke="#000" stroke-width="0.32" text-anchor="middle" fill="#000">223 MLL-ENL</text>
<text x="460.5" y="80.2" font-size="8.8" font-weight="bold" stroke="#000" stroke-width="0.32" text-anchor="middle" fill="#000">bound genes</text>
<text x="392.3" y="214.3" font-size="8.8" font-weight="bold" stroke="#000" stroke-width="0.32" text-anchor="middle" fill="#000">40 genes with higher level</text>
<text x="391.8" y="223.8" font-size="8.8" font-weight="bold" stroke="#000" stroke-width="0.32" text-anchor="middle" fill="#000">of H3K79 methylation</text>
<path d="M113.7 393.4h0M93.9 406.7h0M116.3 374.6h0M95.6 380.6h0M95.1 380.8h0M84 372.5h0M120.4 382.6h0M107.9 408.8h0M113.4 373.4h0M120.8 404.2h0M124.1 400h0M113.3 404.7h0M90.5 396.1h0M96.3 406.2h0M85.1 389.7h0M94.3 405.1h0M94.7 406.4h0M117.6 408.3h0M112.9 397.2h0M108.7 362.6h0M118.6 390.1h0M99.7 378.7h0M114.6 403h0M118.6 371.8h0M94.5 373.7h0M83.6 378h0M82.1 400.8h0M88 385.4h0M97.3 404.1h0M122.4 377h0M107.8 409.2h0M100.4 409.5h0M112.4 377.1h0M118.8 391.5h0M83.8 392.3h0M116.7 388.5h0M101 382.9h0M119.1 396.6h0M88.5 379.9h0M95.5 412.7h0M110.7 366.9h0M120.6 361.9h0M105.9 383.8h0M111.6 383.6h0M83.2 388.8h0M116.3 403.4h0M95.2 372.2h0M112.9 404.1h0M89 408.6h0M124.2 383.8h0M96.3 399h0M121.3 371.1h0M92.7 378.1h0M112.3 370.3h0M103.9 387.5h0M109.4 367.9h0M104.5 403.7h0M87.3 410.1h0M104.1 401.8h0M118.5 379.9h0M121 371.4h0M80.1 387.6h0M119.9 409.5h0M122.5 388.1h0M121.4 390.8h0M85.5 394.7h0M115.6 383.3h0M106.4 374.3h0M91.6 383.1h0M102.4 385.8h0M94.5 399.4h0M113.1 373h0M90.6 388.4h0M87 393.2h0M120.1 371.1h0M105.6 399.6h0M113.1 399.2h0M111.3 375h0M117.1 410.9h0M99.1 364.7h0M82.2 403.8h0M109.8 367.8h0M99.9 395.1h0M124.4 378.5h0M113.9 373.5h0M88 368.9h0M97.7 394h0M92.8 368.9h0M87.8 377.4h0M102 370.1h0M100.8 384.2h0M123.3 386.7h0M122 385.9h0M88 392.6h0M82.3 398.6h0M123 382.2h0M95.1 383.4h0M95 398h0M96.8 368.4h0M118.3 391.5h0M112.1 379.5h0M107.7 410.6h0M97.3 383.8h0M92.6 390.5h0M109.2 400.4h0M122.2 368h0M95.6 406.8h0M115 392.5h0M109.8 378.7h0M122 390.2h0M97.3 370h0M115.4 361.5h0M93.7 386.4h0M101.6 380h0M119.7 379.2h0M103.2 411.1h0M108.1 386.2h0M94.1 381.3h0M106.7 403.2h0M90.9 380.4h0M96.6 380h0M120.5 389.6h0M91.5 378.3h0M116.4 368.8h0M110.4 361.2h0M115.7 368.1h0M91 400.3h0M111.8 410.1h0M122.1 390.3h0M120.9 364.9h0M121.1 383.9h0M87.8 401.1h0M118.1 381.2h0M113.3 392.8h0M123.4 362.1h0M80 399h0M107.7 366.2h0M86.4 370h0M106.7 397h0M123.1 379.8h0M123.5 383.9h0M96.8 373.9h0M124.3 398.8h0M87 369.9h0M85.9 379.3h0M112.5 363.2h0M103.1 397.4h0M80.5 384.2h0M115 391.7h0M99.5 408.5h0M106.3 378.5h0M97 411.9h0M118.1 410.3h0M104.5 367.8h0M87 381.1h0M110.4 360.3h0M115.5 403.2h0M102.4 360.3h0M115.3 382.8h0M109.5 391.3h0M112.1 382.5h0M121.3 393.8h0M93.4 380.7h0M91.2 409.7h0M115 403.3h0M110.3 377.5h0M113.5 374.4h0M106.8 368.7h0M118 386.9h0M91.5 410.8h0M113.4 368.2h0M113.6 391.5h0M120.3 392.3h0M98.4 411.3h0M83 402.7h0M83.7 375.2h0M84.2 407.9h0M99.1 400h0M90.7 400.2h0M108.5 365.4h0M101.5 399.7h0M88.8 396h0M91.6 380.4h0M124.4 383.5h0M105 404.5h0M113.5 385.1h0M118.3 382.1h0M122.2 386h0M84.4 401.2h0M85.6 397.4h0M103.6 400.7h0M85 395h0M96.1 373.7h0M116.1 361.8h0M100.7 364.8h0M117.7 409.1h0M80.6 385.6h0M100.3 399.5h0M112.2 378.9h0M121.4 370.2h0M85.2 404.8h0M101.8 378.5h0M100.6 403.2h0M90.4 410.2h0M89.1 409.9h0M106.9 413.4h0M114.1 394.7h0M103.2 407h0M99.2 365.4h0M120.6 404.3h0M110 401h0M89.6 385.5h0M121 368.8h0M110.1 390.5h0M97.4 369.2h0M85.2 385.9h0M101.4 374.7h0M95.7 390.5h0M113.7 392.4h0M86.4 408.7h0M95.7 412.8h0M123.7 367.7h0M105.5 413.2h0M96.5 390.1h0M88.3 366.8h0M91.9 394.6h0M104.6 412.2h0M110.2 379.9h0M122.2 394.9h0M103.7 407.4h0M109.5 379.8h0M106.5 376.5h0M123.1 373.4h0M123.3 363.5h0M79.4 390.4h0M88.4 387.9h0M84.4 406h0M109.4 397.6h0M109.9 399.2h0M98.4 413.3h0M93.2 391.3h0M120.1 392.4h0M116.5 360.7h0M88.2 369.9h0M116.9 365.6h0M121.4 374.7h0M119.1 388.4h0M93.7 413.2h0M97.4 398.4h0M123.6 366.1h0M113 374.9h0M85.7 380h0M109.1 412.4h0M107.4 395.9h0M86.3 399.9h0M104.1 379.7h0M120 374h0M85.8 392.4h0M115.4 368.8h0M101.9 391.6h0M104.5 382.7h0M103.7 360.8h0M81.6 383.2h0M89.8 401.6h0M90 405.3h0M90 365.1h0M100.7 381.3h0M94.3 402.1h0M89.1 396.9h0M117 384.9h0M101.9 410.8h0M106.5 370h0M94.1 364.9h0M108.5 383.3h0M93 388.2h0M121.6 373.4h0M86 376.8h0M93.8 410h0M111.1 383.6h0M84.6 406.6h0M108.5 368.6h0M107.4 363.2h0M102.1 378.4h0M83.7 400.8h0M111.6 388.1h0M86.6 396.8h0M98.7 396.4h0M97.1 370.9h0M83 397.8h0M124.2 378.4h0M91.1 396.9h0M89.1 382h0M110.3 383.7h0M103.7 414.5h0M120.9 365.5h0M101.9 386.9h0M87.8 396.8h0M101.6 404.5h0M92.3 411.4h0M116.1 386h0M85.4 386.6h0M84.8 397.7h0M110.7 391.8h0M123.4 362.5h0M111.5 404h0M84.1 377.7h0M81.4 392.1h0M111.9 379.1h0M110.6 380.2h0M111.4 375.2h0M123.5 384.1h0M112 407.6h0M108 368.5h0M118.7 399.4h0M84.2 380.9h0M109.6 360.2h0M80.9 379.4h0M93.5 410h0M114.8 407.6h0M105.8 413.3h0M108.3 412.1h0M104.7 370.8h0M102.6 386.6h0M94.4 380.6h0M102.2 392.3h0M89.1 375.3h0M101.9 387.7h0M98.1 396.5h0M87.4 389.3h0M91.5 402.4h0M111 403h0M102.5 373.7h0M121.1 388.1h0M96.1 376h0M97.3 399h0M116.2 386.5h0M112.3 371.7h0M99.6 379.7h0M92.9 379.8h0M113.3 400.3h0M88.4 372.9h0M114.7 396h0M109.8 394.9h0M110.6 375h0M81.8 379.8h0M102.9 396.9h0M123 404.2h0M89.4 378.5h0M83.9 403.8h0M112.5 386.8h0M95.8 374.8h0M101.2 399.2h0M119.7 406.7h0M118.5 384.2h0M98.2 377.3h0M123.3 370.1h0M86.2 375.5h0M121 406.9h0M94.1 406.8h0M119.5 383.5h0M87.7 402.5h0M96 366.6h0M120.1 384.2h0M97.1 392.7h0M96.7 380.9h0M113.6 378.3h0M109.9 394.4h0M109.7 393.6h0M92.4 371h0M117.9 410h0M89.6 392.2h0M105.1 377.7h0M108.3 393.1h0M102.2 366.7h0M88.7 377.1h0M97.9 380h0M120.1 366.4h0M123.9 373.2h0M118 373.4h0M105.7 380.7h0M115.9 374.8h0M114.3 386.4h0M123.9 363h0M96.3 372.5h0M107.4 402.8h0M117.3 390.2h0M96.6 404h0M83.8 374.3h0M113.2 384.2h0M124.2 365h0M100 371.7h0M83.1 380.3h0M98.7 387.9h0M92.2 398.6h0M102.5 414h0M86.7 388.1h0M101.5 380.4h0M118.2 371.5h0M118.9 379.7h0M94.3 393.8h0M104.6 375.6h0M95.8 366.3h0M108.9 389.3h0M93.9 378.1h0M117.4 378.6h0M98 412.6h0M95.4 382.1h0M86.4 396.4h0M109.2 384.5h0M97.5 372.8h0M114.9 385.1h0M116.9 380.6h0M112.4 361.6h0M110 397.2h0M101.6 386h0M88 369.5h0M108.4 398.2h0M90.8 395.5h0M85.2 393.7h0M86.8 388h0M93.3 390.3h0M85.1 386.6h0M107.1 367.4h0M93 397.3h0M103.9 393.9h0M114.5 391.4h0M89.1 384.3h0M116.8 391.2h0M113.3 380h0M99.4 413.3h0M116.4 395.9h0M83.8 393.7h0M123.2 400h0M91.2 406.5h0M87.1 405.5h0M102.7 360.9h0M119.5 384.2h0M116.8 397.9h0M103.2 407.4h0M88.2 409.4h0M94.3 363.6h0M82.3 394.3h0M92.3 375.3h0M120.9 409.8h0M99 403.8h0M91.8 411h0M115.9 400.3h0M121.1 390.4h0M106.9 407.4h0M85.5 398.5h0M100.1 403.2h0M99.7 370.8h0M122.5 375.5h0M112.9 405.7h0M90.3 398.2h0M97 372.3h0M95.8 388h0M101.8 361.5h0M113.3 401h0M118.9 379.6h0M88.5 379.1h0M112.3 396.2h0M97.5 388.9h0M100.5 387.9h0M114.8 370.9h0M111.9 379.4h0M116 365.2h0M91.6 395h0M100.9 380.7h0M105.3 372h0M115.3 374h0M116.8 390.4h0M106.4 394.4h0M84.7 402.7h0M92.3 407.5h0M114.8 397.3h0M116.1 384h0M109.6 412.4h0M97.7 388h0M85.8 372.2h0M118.4 381.3h0M85.8 370.1h0M105.3 370.4h0M100.6 389.6h0M99 387.7h0M117.1 360.9h0M121.3 371h0M80.7 402.2h0M104.9 389.6h0M88.9 403h0M92.9 400h0M89.4 391.5h0M108.5 380.4h0M100.8 363.6h0M108.3 398h0M86 390.3h0M112.4 365.6h0M117.2 407.9h0M82.9 386.9h0M90.4 376.5h0M100 380.4h0M114.9 399.7h0M84.2 372.3h0M83.9 398.3h0M113.4 382.6h0M121.4 381.6h0M93.2 364h0M122.1 388.2h0M99.1 384h0M114 405.7h0M100.7 369.8h0M97.5 409h0M97.6 396.4h0M104.5 385.4h0M105.2 373.5h0M104.4 407.6h0M82.6 380.3h0M79.6 394.5h0M107.8 406.4h0M100.4 367.2h0M92.7 399.2h0M112.1 371.3h0M108.2 396.1h0M108.9 361.2h0M99.1 377.9h0M106.2 378.5h0M84.8 396.9h0M92.1 403.5h0M92.9 390h0M115.8 366.4h0M112.3 363.7h0M121.6 361.4h0M111.9 380.3h0M87.2 381.7h0M101.8 382.8h0M84.6 388.8h0M92.7 413.2h0M96.4 383.9h0M93.6 395.5h0M116.9 381.6h0M113.4 375.3h0M99.4 408.1h0M88.2 384.2h0M113.7 375.2h0M85.9 388.6h0M98.4 411.6h0M119.8 373.1h0M104.5 382.9h0M80.5 384.4h0M120.7 376.7h0M105.7 399.1h0M84 376.6h0M111.6 361.1h0M96.1 367h0M100.5 360.9h0M85.9 372.2h0M87.8 388.5h0M85.2 405.2h0M98 373.9h0M90 406.2h0M81.1 400.8h0M97.6 392.9h0M118.3 365.5h0M81.9 398.1h0M105.7 399.7h0M91.6 387.3h0M87.5 384h0M91.8 392.2h0M92.6 375.1h0M108.2 364.7h0M115.5 387.3h0M89.4 366.3h0M102.1 387.7h0M111.7 380.6h0M97.8 409.1h0M121.9 374.1h0M116.1 393.7h0M108.5 404.5h0M104.4 364.4h0M118.3 369.7h0M90.8 393.9h0M87.8 385.4h0M111.5 365.3h0M109.1 365.7h0M100.6 395.7h0M110.3 362.4h0M96.8 383.4h0M96 398.3h0M112.7 395.8h0M97.3 391.3h0M102.5 370.3h0M100.2 406.2h0M89.9 400.8h0M111.5 411.6h0M116.9 408.4h0M91.2 403.3h0M100.6 377.2h0M95.8 403.9h0M117.3 406.5h0M109.5 369.4h0M86.1 391.2h0M88.6 378.5h0M111.6 372.3h0M117.6 378.1h0M117.6 376.6h0M91.2 381.7h0M118.2 380.6h0M89.4 373.9h0M111.3 392h0M101.9 373.5h0M92 413.4h0M95.9 414.4h0M119.3 366.9h0M117.6 361.2h0M111.4 404.5h0M110.6 390.2h0M116 368.5h0M103.6 374.6h0M97.2 370.5h0M111.2 391.5h0M114.5 394.6h0M106.3 410.7h0M116 391.2h0M93.8 411h0M95.9 365.6h0M94.2 398.9h0M121.4 395.5h0M109.1 411.6h0M114.4 384.5h0M100 401.8h0M93.5 366h0M107.2 404.5h0M90.3 397.6h0M119.6 367h0M85.2 387.1h0M94.2 412.2h0M124.4 384.5h0M115.1 394.7h0M99.6 361h0M100.9 382.7h0M122.4 382.8h0M117.7 402.9h0M105.7 373.1h0M92.9 387h0M97 395.5h0M102 377.8h0M88.2 378.5h0M81.5 383.3h0M117.1 398.4h0M123 406h0M105.7 391.9h0M90.9 394.1h0M82 389.8h0M96.1 387.1h0M97.4 365.6h0M112.3 404h0M106.2 366.4h0M106.3 407.9h0M123.9 401.7h0M109.3 375.2h0M120.9 405.4h0M119.7 373.6h0M105.3 380.8h0M92.5 401.9h0M107.1 378.2h0M103.7 411.1h0M104.8 410.2h0M104.8 414.6h0M80.3 385.3h0M104.1 400h0M123.1 394.3h0M100.7 394.9h0M103.3 398.8h0M93.6 408.2h0M81.7 403.5h0M80.4 395.7h0M115.4 373.1h0M96.3 372.5h0M111.1 389.1h0M106.6 377.9h0M105.7 412.5h0M114.5 412.3h0M90.2 388.4h0M96.5 379h0M115.6 369.6h0M104.4 402.6h0M121.6 361h0M91.3 387.1h0M121.6 369h0M117.3 381.8h0M103.9 411h0M81.9 378.1h0M92.8 398.5h0M105.4 366.7h0M115.5 387.9h0M85.5 405.1h0M116.3 371.9h0M121.8 404.6h0M118.5 405.4h0M83.4 402.2h0M105.9 354.6h0M85.3 417.5h0M118.7 357.6h0M89.7 362.7h0M89.3 361.3h0M95.9 419.5h0M100.7 417.2h0M123.9 360.1h0M102.4 417h0M124.3 413.9h0M106.1 359.6h0M94.9 418h0M105.9 352.3h0M117.5 413.8h0M84.2 411.4h0M101.5 358.3h0M87.1 363.4h0M87.3 365.2h0M79.1 402h0M86.3 411h0M102.4 416.6h0M108.6 353.4h0M78.8 383.5h0M80.3 406.2h0M93.4 415.4h0M108.6 421.4h0M87.7 414h0M79.9 363h0M72.3 391.5h0M73 397.2h0M79 378.2h0M99.4 417.4h0M78.7 387.7h0M77.4 398.7h0M73.3 391.3h0M78.6 410.1h0M124.3 412.9h0M84.8 362.5h0M90 416.9h0M78.5 395.9h0M71.3 394h0M74 391.8h0M123.7 415h0M77.6 402.2h0M121.6 358.8h0M117.7 357h0M107.2 414.9h0M76.2 403.5h0M110.9 416.4h0M107.1 421.4h0M79.2 409.7h0M82.7 367.7h0M82.6 408.7h0M78.2 385.3h0M71.7 371.1h0M76.7 402.7h0M83.7 411.6h0M81 375.1h0M77 381.4h0M89.4 414.5h0M68 389.3h0M77.1 378h0M109 416.8h0M85.2 410.9h0M107.4 357.3h0M106.9 357.6h0M74.4 398.2h0M87.8 364.8h0M88.5 357h0M116.9 354.1h0M90.6 418.7h0M85.6 365.6h0M106.1 419.3h0M98.6 359.3h0M83.5 370.4h0M104.4 419.3h0M113.2 416.7h0M72.3 396.7h0M94.2 357.4h0M76.9 371.4h0M84.4 363.9h0M112.4 417.2h0M86.3 360.3h0M86.7 412.3h0M104.3 415.2h0M78.4 396.2h0M107 358.9h0M104.4 418.3h0M92.9 360.6h0M81.4 415h0M103.3 353.2h0M79.7 408.3h0M74.6 380.3h0M88.2 417.5h0M108.4 415.6h0M102.2 354.8h0M72 389.9h0M106.8 416.6h0M75.7 392.5h0M88.1 366h0M103.8 356.6h0M97.7 357.2h0M87.9 364.5h0M78.1 371.8h0M97.2 359.6h0M84.2 413.4h0M84.9 410.6h0M116.8 418.1h0M97.2 355.5h0M121.8 415.8h0M100.7 418.3h0M95.3 414.7h0M101 358.2h0M100 420.1h0M87.4 412.7h0M77.4 399h0M117.8 359.9h0M97.1 415.9h0M108.2 417.6h0M124.3 411.3h0M113 413.3h0M74.1 397.5h0M89.3 420.6h0M96.3 359.7h0M82.4 415.9h0M77.2 378.3h0M77.7 391.6h0M67.4 398.2h0M70.5 372.9h0M68.4 383.4h0M74.7 415h0M83.2 416h0M95.8 424.5h0M100 426.6h0M85.3 355.6h0M103.5 346.5h0M104.5 348.5h0M120.5 350h0M121 352h0" stroke="#1c6a1c" stroke-width="5.5" stroke-linecap="round"/>
<polygon points="97,361 104,360 112,360 119,360.5 124.5,361 124.5,409 118,412 108,414.5 98,415 90,413 84,409 80.5,402 79,394 79.5,385 81.5,377 85,370 90,364.5" fill="#22ee22"/>
<path d="M113.7 393.4h0M93.9 406.7h0M116.3 374.6h0M95.6 380.6h0M95.1 380.8h0M84 372.5h0M120.4 382.6h0M107.9 408.8h0M113.4 373.4h0M120.8 404.2h0M124.1 400h0M113.3 404.7h0M90.5 396.1h0M96.3 406.2h0M85.1 389.7h0M94.3 405.1h0M94.7 406.4h0M117.6 408.3h0M112.9 397.2h0M108.7 362.6h0M118.6 390.1h0M99.7 378.7h0M114.6 403h0M118.6 371.8h0M94.5 373.7h0M83.6 378h0M82.1 400.8h0M88 385.4h0M97.3 404.1h0M122.4 377h0M107.8 409.2h0M100.4 409.5h0M112.4 377.1h0M118.8 391.5h0M83.8 392.3h0M116.7 388.5h0M101 382.9h0M119.1 396.6h0M88.5 379.9h0M95.5 412.7h0M110.7 366.9h0M120.6 361.9h0M105.9 383.8h0M111.6 383.6h0M83.2 388.8h0M116.3 403.4h0M95.2 372.2h0M112.9 404.1h0M89 408.6h0M124.2 383.8h0M96.3 399h0M121.3 371.1h0M92.7 378.1h0M112.3 370.3h0M103.9 387.5h0M109.4 367.9h0M104.5 403.7h0M87.3 410.1h0M104.1 401.8h0M118.5 379.9h0M121 371.4h0M80.1 387.6h0M119.9 409.5h0M122.5 388.1h0M121.4 390.8h0M85.5 394.7h0M115.6 383.3h0M106.4 374.3h0M91.6 383.1h0M102.4 385.8h0M94.5 399.4h0M113.1 373h0M90.6 388.4h0M87 393.2h0M120.1 371.1h0M105.6 399.6h0M113.1 399.2h0M111.3 375h0M117.1 410.9h0M99.1 364.7h0M82.2 403.8h0M109.8 367.8h0M99.9 395.1h0M124.4 378.5h0M113.9 373.5h0M88 368.9h0M97.7 394h0M92.8 368.9h0M87.8 377.4h0M102 370.1h0M100.8 384.2h0M123.3 386.7h0M122 385.9h0M88 392.6h0M82.3 398.6h0M123 382.2h0M95.1 383.4h0M95 398h0M96.8 368.4h0M118.3 391.5h0M112.1 379.5h0M107.7 410.6h0M97.3 383.8h0M92.6 390.5h0M109.2 400.4h0M122.2 368h0M95.6 406.8h0M115 392.5h0M109.8 378.7h0M122 390.2h0M97.3 370h0M115.4 361.5h0M93.7 386.4h0M101.6 380h0M119.7 379.2h0M103.2 411.1h0M108.1 386.2h0M94.1 381.3h0M106.7 403.2h0M90.9 380.4h0M96.6 380h0M120.5 389.6h0M91.5 378.3h0M116.4 368.8h0M110.4 361.2h0M115.7 368.1h0M91 400.3h0M111.8 410.1h0M122.1 390.3h0M120.9 364.9h0M121.1 383.9h0M87.8 401.1h0M118.1 381.2h0M113.3 392.8h0M123.4 362.1h0M80 399h0M107.7 366.2h0M86.4 370h0M106.7 397h0M123.1 379.8h0M123.5 383.9h0M96.8 373.9h0M124.3 398.8h0M87 369.9h0M85.9 379.3h0M112.5 363.2h0M103.1 397.4h0M80.5 384.2h0M115 391.7h0M99.5 408.5h0M106.3 378.5h0M97 411.9h0M118.1 410.3h0M104.5 367.8h0M87 381.1h0M110.4 360.3h0M115.5 403.2h0M102.4 360.3h0M115.3 382.8h0M109.5 391.3h0M112.1 382.5h0M121.3 393.8h0M93.4 380.7h0M91.2 409.7h0M115 403.3h0M110.3 377.5h0M113.5 374.4h0M106.8 368.7h0M118 386.9h0M91.5 410.8h0M113.4 368.2h0M113.6 391.5h0M120.3 392.3h0M98.4 411.3h0M83 402.7h0M83.7 375.2h0M84.2 407.9h0M99.1 400h0M90.7 400.2h0M108.5 365.4h0M101.5 399.7h0M88.8 396h0M91.6 380.4h0M124.4 383.5h0M105 404.5h0M113.5 385.1h0M118.3 382.1h0M122.2 386h0M84.4 401.2h0M85.6 397.4h0M103.6 400.7h0M85 395h0M96.1 373.7h0M116.1 361.8h0M100.7 364.8h0M117.7 409.1h0M80.6 385.6h0M100.3 399.5h0M112.2 378.9h0M121.4 370.2h0M85.2 404.8h0M101.8 378.5h0M100.6 403.2h0M90.4 410.2h0M89.1 409.9h0M106.9 413.4h0M114.1 394.7h0M103.2 407h0M99.2 365.4h0M120.6 404.3h0M110 401h0M89.6 385.5h0M121 368.8h0M110.1 390.5h0M97.4 369.2h0M85.2 385.9h0M101.4 374.7h0M95.7 390.5h0M113.7 392.4h0M86.4 408.7h0M95.7 412.8h0M123.7 367.7h0M105.5 413.2h0M96.5 390.1h0M88.3 366.8h0M91.9 394.6h0M104.6 412.2h0M110.2 379.9h0M122.2 394.9h0M103.7 407.4h0M109.5 379.8h0M106.5 376.5h0M123.1 373.4h0M123.3 363.5h0M79.4 390.4h0M88.4 387.9h0M84.4 406h0M109.4 397.6h0M109.9 399.2h0M98.4 413.3h0M93.2 391.3h0M120.1 392.4h0M116.5 360.7h0M88.2 369.9h0M116.9 365.6h0M121.4 374.7h0M119.1 388.4h0M93.7 413.2h0M97.4 398.4h0M123.6 366.1h0M113 374.9h0M85.7 380h0M109.1 412.4h0M107.4 395.9h0M86.3 399.9h0M104.1 379.7h0M120 374h0M85.8 392.4h0M115.4 368.8h0M101.9 391.6h0M104.5 382.7h0M103.7 360.8h0M81.6 383.2h0M89.8 401.6h0M90 405.3h0M90 365.1h0M100.7 381.3h0M94.3 402.1h0M89.1 396.9h0M117 384.9h0M101.9 410.8h0M106.5 370h0M94.1 364.9h0M108.5 383.3h0M93 388.2h0M121.6 373.4h0M86 376.8h0M93.8 410h0M111.1 383.6h0M84.6 406.6h0M108.5 368.6h0M107.4 363.2h0M102.1 378.4h0M83.7 400.8h0M111.6 388.1h0M86.6 396.8h0M98.7 396.4h0M97.1 370.9h0M83 397.8h0M124.2 378.4h0M91.1 396.9h0M89.1 382h0M110.3 383.7h0M103.7 414.5h0M120.9 365.5h0M101.9 386.9h0M87.8 396.8h0M101.6 404.5h0M92.3 411.4h0M116.1 386h0M85.4 386.6h0M84.8 397.7h0M110.7 391.8h0M123.4 362.5h0M111.5 404h0M84.1 377.7h0M81.4 392.1h0M111.9 379.1h0M110.6 380.2h0M111.4 375.2h0M123.5 384.1h0M112 407.6h0M108 368.5h0M118.7 399.4h0M84.2 380.9h0M109.6 360.2h0M80.9 379.4h0M93.5 410h0M114.8 407.6h0M105.8 413.3h0M108.3 412.1h0M104.7 370.8h0M102.6 386.6h0M94.4 380.6h0M102.2 392.3h0M89.1 375.3h0M101.9 387.7h0M98.1 396.5h0M87.4 389.3h0M91.5 402.4h0M111 403h0M102.5 373.7h0M121.1 388.1h0M96.1 376h0M97.3 399h0M116.2 386.5h0M112.3 371.7h0M99.6 379.7h0M92.9 379.8h0M113.3 400.3h0M88.4 372.9h0M114.7 396h0M109.8 394.9h0M110.6 375h0M81.8 379.8h0M102.9 396.9h0M123 404.2h0M89.4 378.5h0M83.9 403.8h0M112.5 386.8h0M95.8 374.8h0M101.2 399.2h0M119.7 406.7h0M118.5 384.2h0M98.2 377.3h0M123.3 370.1h0M86.2 375.5h0M121 406.9h0M94.1 406.8h0M119.5 383.5h0M87.7 402.5h0M96 366.6h0M120.1 384.2h0M97.1 392.7h0M96.7 380.9h0M113.6 378.3h0M109.9 394.4h0M109.7 393.6h0M92.4 371h0M117.9 410h0M89.6 392.2h0M105.1 377.7h0M108.3 393.1h0M102.2 366.7h0M88.7 377.1h0M97.9 380h0M120.1 366.4h0M123.9 373.2h0M118 373.4h0M105.7 380.7h0M115.9 374.8h0M114.3 386.4h0M123.9 363h0M96.3 372.5h0M107.4 402.8h0M117.3 390.2h0M96.6 404h0M83.8 374.3h0M113.2 384.2h0M124.2 365h0M100 371.7h0M83.1 380.3h0M98.7 387.9h0M92.2 398.6h0M102.5 414h0M86.7 388.1h0M101.5 380.4h0M118.2 371.5h0M118.9 379.7h0M94.3 393.8h0M104.6 375.6h0M95.8 366.3h0M108.9 389.3h0M93.9 378.1h0M117.4 378.6h0M98 412.6h0M95.4 382.1h0M86.4 396.4h0M109.2 384.5h0M97.5 372.8h0M114.9 385.1h0M116.9 380.6h0M112.4 361.6h0M110 397.2h0M101.6 386h0M88 369.5h0M108.4 398.2h0M90.8 395.5h0M85.2 393.7h0M86.8 388h0M93.3 390.3h0M85.1 386.6h0M107.1 367.4h0M93 397.3h0M103.9 393.9h0M114.5 391.4h0M89.1 384.3h0M116.8 391.2h0M113.3 380h0M99.4 413.3h0M116.4 395.9h0M83.8 393.7h0M123.2 400h0M91.2 406.5h0M87.1 405.5h0M102.7 360.9h0M119.5 384.2h0M116.8 397.9h0M103.2 407.4h0M88.2 409.4h0M94.3 363.6h0M82.3 394.3h0M92.3 375.3h0M120.9 409.8h0M99 403.8h0M91.8 411h0M115.9 400.3h0M121.1 390.4h0M106.9 407.4h0M85.5 398.5h0M100.1 403.2h0M99.7 370.8h0M122.5 375.5h0M112.9 405.7h0M90.3 398.2h0M97 372.3h0M95.8 388h0M101.8 361.5h0M113.3 401h0M118.9 379.6h0M88.5 379.1h0M112.3 396.2h0M97.5 388.9h0M100.5 387.9h0M114.8 370.9h0M111.9 379.4h0M116 365.2h0M91.6 395h0M100.9 380.7h0M105.3 372h0M115.3 374h0M116.8 390.4h0M106.4 394.4h0M84.7 402.7h0M92.3 407.5h0M114.8 397.3h0M116.1 384h0M109.6 412.4h0M97.7 388h0M85.8 372.2h0M118.4 381.3h0M85.8 370.1h0M105.3 370.4h0M100.6 389.6h0M99 387.7h0M117.1 360.9h0M121.3 371h0M80.7 402.2h0M104.9 389.6h0M88.9 403h0M92.9 400h0M89.4 391.5h0M108.5 380.4h0M100.8 363.6h0M108.3 398h0M86 390.3h0M112.4 365.6h0M117.2 407.9h0M82.9 386.9h0M90.4 376.5h0M100 380.4h0M114.9 399.7h0M84.2 372.3h0M83.9 398.3h0M113.4 382.6h0M121.4 381.6h0M93.2 364h0M122.1 388.2h0M99.1 384h0M114 405.7h0M100.7 369.8h0M97.5 409h0M97.6 396.4h0M104.5 385.4h0M105.2 373.5h0M104.4 407.6h0M82.6 380.3h0M79.6 394.5h0M107.8 406.4h0M100.4 367.2h0M92.7 399.2h0M112.1 371.3h0M108.2 396.1h0M108.9 361.2h0M99.1 377.9h0M106.2 378.5h0M84.8 396.9h0M92.1 403.5h0M92.9 390h0M115.8 366.4h0M112.3 363.7h0M121.6 361.4h0M111.9 380.3h0M87.2 381.7h0M101.8 382.8h0M84.6 388.8h0M92.7 413.2h0M96.4 383.9h0M93.6 395.5h0M116.9 381.6h0M113.4 375.3h0M99.4 408.1h0M88.2 384.2h0M113.7 375.2h0M85.9 388.6h0M98.4 411.6h0M119.8 373.1h0M104.5 382.9h0M80.5 384.4h0M120.7 376.7h0M105.7 399.1h0M84 376.6h0M111.6 361.1h0M96.1 367h0M100.5 360.9h0M85.9 372.2h0M87.8 388.5h0M85.2 405.2h0M98 373.9h0M90 406.2h0M81.1 400.8h0M97.6 392.9h0M118.3 365.5h0M81.9 398.1h0M105.7 399.7h0M91.6 387.3h0M87.5 384h0M91.8 392.2h0M92.6 375.1h0M108.2 364.7h0M115.5 387.3h0M89.4 366.3h0M102.1 387.7h0M111.7 380.6h0M97.8 409.1h0M121.9 374.1h0M116.1 393.7h0M108.5 404.5h0M104.4 364.4h0M118.3 369.7h0M90.8 393.9h0M87.8 385.4h0M111.5 365.3h0M109.1 365.7h0M100.6 395.7h0M110.3 362.4h0M96.8 383.4h0M96 398.3h0M112.7 395.8h0M97.3 391.3h0M102.5 370.3h0M100.2 406.2h0M89.9 400.8h0M111.5 411.6h0M116.9 408.4h0M91.2 403.3h0M100.6 377.2h0M95.8 403.9h0M117.3 406.5h0M109.5 369.4h0M86.1 391.2h0M88.6 378.5h0M111.6 372.3h0M117.6 378.1h0M117.6 376.6h0M91.2 381.7h0M118.2 380.6h0M89.4 373.9h0M111.3 392h0M101.9 373.5h0M92 413.4h0M95.9 414.4h0M119.3 366.9h0M117.6 361.2h0M111.4 404.5h0M110.6 390.2h0M116 368.5h0M103.6 374.6h0M97.2 370.5h0M111.2 391.5h0M114.5 394.6h0M106.3 410.7h0M116 391.2h0M93.8 411h0M95.9 365.6h0M94.2 398.9h0M121.4 395.5h0M109.1 411.6h0M114.4 384.5h0M100 401.8h0M93.5 366h0M107.2 404.5h0M90.3 397.6h0M119.6 367h0M85.2 387.1h0M94.2 412.2h0M124.4 384.5h0M115.1 394.7h0M99.6 361h0M100.9 382.7h0M122.4 382.8h0M117.7 402.9h0M105.7 373.1h0M92.9 387h0M97 395.5h0M102 377.8h0M88.2 378.5h0M81.5 383.3h0M117.1 398.4h0M123 406h0M105.7 391.9h0M90.9 394.1h0M82 389.8h0M96.1 387.1h0M97.4 365.6h0M112.3 404h0M106.2 366.4h0M106.3 407.9h0M123.9 401.7h0M109.3 375.2h0M120.9 405.4h0M119.7 373.6h0M105.3 380.8h0M92.5 401.9h0M107.1 378.2h0M103.7 411.1h0M104.8 410.2h0M104.8 414.6h0M80.3 385.3h0M104.1 400h0M123.1 394.3h0M100.7 394.9h0M103.3 398.8h0M93.6 408.2h0M81.7 403.5h0M80.4 395.7h0M115.4 373.1h0M96.3 372.5h0M111.1 389.1h0M106.6 377.9h0M105.7 412.5h0M114.5 412.3h0M90.2 388.4h0M96.5 379h0M115.6 369.6h0M104.4 402.6h0M121.6 361h0M91.3 387.1h0M121.6 369h0M117.3 381.8h0M103.9 411h0M81.9 378.1h0M92.8 398.5h0M105.4 366.7h0M115.5 387.9h0M85.5 405.1h0M116.3 371.9h0M121.8 404.6h0M118.5 405.4h0M83.4 402.2h0M105.9 354.6h0M85.3 417.5h0M118.7 357.6h0M89.7 362.7h0M89.3 361.3h0M95.9 419.5h0M100.7 417.2h0M123.9 360.1h0M102.4 417h0M124.3 413.9h0M106.1 359.6h0M94.9 418h0M105.9 352.3h0M117.5 413.8h0M84.2 411.4h0M101.5 358.3h0M87.1 363.4h0M87.3 365.2h0M79.1 402h0M86.3 411h0M102.4 416.6h0M108.6 353.4h0M78.8 383.5h0M80.3 406.2h0M93.4 415.4h0M108.6 421.4h0M87.7 414h0M79.9 363h0M72.3 391.5h0M73 397.2h0M79 378.2h0M99.4 417.4h0M78.7 387.7h0M77.4 398.7h0M73.3 391.3h0M78.6 410.1h0M124.3 412.9h0M84.8 362.5h0M90 416.9h0M78.5 395.9h0M71.3 394h0M74 391.8h0M123.7 415h0M77.6 402.2h0M121.6 358.8h0M117.7 357h0M107.2 414.9h0M76.2 403.5h0M110.9 416.4h0M107.1 421.4h0M79.2 409.7h0M82.7 367.7h0M82.6 408.7h0M78.2 385.3h0M71.7 371.1h0M76.7 402.7h0M83.7 411.6h0M81 375.1h0M77 381.4h0M89.4 414.5h0M68 389.3h0M77.1 378h0M109 416.8h0M85.2 410.9h0M107.4 357.3h0M106.9 357.6h0M74.4 398.2h0M87.8 364.8h0M88.5 357h0M116.9 354.1h0M90.6 418.7h0M85.6 365.6h0M106.1 419.3h0M98.6 359.3h0M83.5 370.4h0M104.4 419.3h0M113.2 416.7h0M72.3 396.7h0M94.2 357.4h0M76.9 371.4h0M84.4 363.9h0M112.4 417.2h0M86.3 360.3h0M86.7 412.3h0M104.3 415.2h0M78.4 396.2h0M107 358.9h0M104.4 418.3h0M92.9 360.6h0M81.4 415h0M103.3 353.2h0M79.7 408.3h0M74.6 380.3h0M88.2 417.5h0M108.4 415.6h0M102.2 354.8h0M72 389.9h0M106.8 416.6h0M75.7 392.5h0M88.1 366h0M103.8 356.6h0M97.7 357.2h0M87.9 364.5h0M78.1 371.8h0M97.2 359.6h0M84.2 413.4h0M84.9 410.6h0M116.8 418.1h0M97.2 355.5h0M121.8 415.8h0M100.7 418.3h0M95.3 414.7h0M101 358.2h0M100 420.1h0M87.4 412.7h0M77.4 399h0M117.8 359.9h0M97.1 415.9h0M108.2 417.6h0M124.3 411.3h0M113 413.3h0M74.1 397.5h0M89.3 420.6h0M96.3 359.7h0M82.4 415.9h0M77.2 378.3h0M77.7 391.6h0M67.4 398.2h0M70.5 372.9h0M68.4 383.4h0M74.7 415h0M83.2 416h0M95.8 424.5h0M100 426.6h0M85.3 355.6h0M103.5 346.5h0M104.5 348.5h0M120.5 350h0M121 352h0" stroke="#22ee22" stroke-width="4.2" stroke-linecap="round"/>
<polygon points="128.5,359 133,357 139,358 143,361 145,367 143,375 140.5,382 137.5,388 134,391 130.5,392.5 128.5,392" fill="#7a0d14" stroke="#7a0d14" stroke-width="3"/>
<path d="M130.1 389.9h0M140.1 365.5h0M137.3 386.6h0M134.3 374.7h0M139.5 363.8h0M138.8 372.1h0M133 361.2h0M131 375.8h0M131.4 385.2h0M130.1 379.1h0M142.7 361.5h0M132.1 384.2h0M134.1 371.1h0M144.3 369.2h0M131.8 376.4h0M140.9 378.3h0M130.1 391h0M130.2 384.8h0M140.4 368.3h0M139.8 371.6h0M143.9 370.6h0M141.8 373.7h0M141.9 367.7h0M137.5 357.9h0M136.6 359.8h0M129.9 382h0M140.5 378.5h0M128.8 389.8h0M135.7 378.1h0M141.9 366.8h0M129 389.8h0M133 358.5h0M130.8 392.3h0M140.7 364.5h0M130.9 388.9h0M139.5 377.7h0M130.7 371.7h0M135.4 359h0M140 374.5h0M136.6 362.2h0M137 385.5h0M130.7 388.1h0M135.4 366.4h0M132.4 373.3h0M139.2 377.2h0M132.1 357.6h0M133.9 368.1h0M130.5 371.8h0M129.1 389.7h0M136.5 388.2h0M140 382.9h0M141 367.7h0M140.5 364.3h0M137.7 378.1h0M141.3 363h0M134.2 386.3h0M130.5 364.5h0M130.3 382.7h0M140.8 380h0M141.4 375.3h0M139.2 380.3h0M138.2 374.5h0M141 377.3h0M130.6 372.1h0M135.5 372.3h0M137.8 369.8h0M135 372.2h0M140.4 371h0M135.9 378h0M134.6 365.5h0M128.8 388h0M144 367.2h0M136.2 368.5h0M129.5 388.7h0M142.3 365.6h0M132.7 381.8h0M141.6 373.7h0M134.9 365.3h0M142.7 361.1h0M140.3 373.3h0M130.9 359.1h0M140.6 359.4h0M136.3 388.7h0M130.1 377.9h0M135.4 365.9h0M130.5 365.1h0M134.2 377.3h0M133.9 372.6h0M141.9 363.5h0M140.4 368.7h0M133.9 378.5h0M130.3 371.6h0M138.8 379.7h0M134.2 358.2h0M130.5 376.9h0M131.3 367.9h0M137 366h0M138.2 366.8h0M141.4 362.5h0M132.8 372.6h0M143.5 362.9h0M131.7 361.7h0M132 368.8h0M135 384h0M135.2 373.9h0M135 384.5h0M143.4 372.1h0M143.7 365.9h0M139.8 370.5h0M133 361.8h0M143.1 369.8h0M140 373.4h0M137.2 364.3h0M131.4 368.9h0M139.7 376.3h0M128.5 382.2h0M135.6 359.4h0M132.8 364.5h0M142.1 376.5h0M133.9 365.8h0M143.2 359h0M144.7 384.5h0M139.6 357.9h0M151.4 366.5h0M156.1 362.1h0M142.2 387.4h0M138.3 377.7h0M143.3 350h0M140.6 385.3h0M154.1 359.1h0M142.6 349.3h0M152.1 362.5h0M140.2 366.8h0M161.1 357.4h0M139.6 376.5h0M153.4 370.5h0M140 388.7h0M138.1 353.7h0M141.8 370.7h0M148.3 372.7h0M148.1 347.1h0M143.9 352.2h0M138.6 359.7h0M138 379.3h0M157.2 365.4h0M139.3 378h0M143.9 351.7h0M139.6 365.1h0M138.6 364.3h0M150.4 372.6h0M146.3 385h0M137.5 361.5h0M151 350.9h0M142.2 349.9h0M159.5 361.1h0M146.4 371.9h0M137.8 380.3h0M159.7 360.9h0M139.1 383.1h0M154.4 363.6h0M144.6 352.7h0M157.7 362h0M144 370.7h0M144.9 379.7h0M145.2 358.7h0M143.5 349.2h0M140.5 393.2h0M136.1 385.5h0M149.8 372.7h0M150.1 365.5h0M150.6 349.5h0M160.8 350.1h0M138.9 378.6h0M141.6 383.9h0M139.3 371.6h0M130.4 336.7h0M161.7 329.5h0M162.6 335.2h0M175.9 329.1h0M141.8 346.5h0M143.7 346.5h0M148.4 349.4h0M150.3 348.4h0M156 347.5h0M135.2 352.2h0M136.1 354.1h0M142.7 355h0M146.5 351.3h0M164.5 352.2h0M171.1 356h0M173 357.9h0M174.9 360.7h0M174 363.6h0M174.9 366.4h0M165.5 362.6h0M166.4 369.2h0M167.3 373h0M160.7 374h0M164.5 378.7h0M154.1 359.8h0M157.9 361.7h0M156 365.5h0M159.8 367.3h0M148.4 380.6h0M154.1 380.6h0M148.4 385.3h0M159.8 387.2h0M138.9 384.4h0M138 392h0M138.9 394.8h0M151.3 393.9h0M138.9 399.5h0M139.9 403.3h0M132.3 401.4h0M131.4 408.1h0M230.9 274.5h0M216.2 285h0M208.4 298.3h0M234.7 307.7h0M154.1 306.5h0M176.8 316.6h0M199 315.1h0M200.5 316.5h0M161.7 330.3h0M162.5 335.1h0M176.2 329.2h0M194.7 339.7h0M156.8 347.1h0M189.9 350.7h0M210.9 356h0M164.8 352.4h0M171.2 355.5h0M172.6 357.6h0M137.9 421.3h0M152 356h0M160 357h0M168 360h0M145 370h0M150 375h0M157 372h0M162 383h0M142 398h0M134 405h0M129.5 404.5h0M131 412h0M136 411h0M153 352h0M158 351h0M170 350.5h0M178 360.5h0M168 366h0" stroke="#7a0d14" stroke-width="5.5" stroke-linecap="round"/>
<polygon points="128.5,359 133,357 139,358 143,361 145,367 143,375 140.5,382 137.5,388 134,391 130.5,392.5 128.5,392" fill="#f01010"/>
<path d="M130.1 389.9h0M140.1 365.5h0M137.3 386.6h0M134.3 374.7h0M139.5 363.8h0M138.8 372.1h0M133 361.2h0M131 375.8h0M131.4 385.2h0M130.1 379.1h0M142.7 361.5h0M132.1 384.2h0M134.1 371.1h0M144.3 369.2h0M131.8 376.4h0M140.9 378.3h0M130.1 391h0M130.2 384.8h0M140.4 368.3h0M139.8 371.6h0M143.9 370.6h0M141.8 373.7h0M141.9 367.7h0M137.5 357.9h0M136.6 359.8h0M129.9 382h0M140.5 378.5h0M128.8 389.8h0M135.7 378.1h0M141.9 366.8h0M129 389.8h0M133 358.5h0M130.8 392.3h0M140.7 364.5h0M130.9 388.9h0M139.5 377.7h0M130.7 371.7h0M135.4 359h0M140 374.5h0M136.6 362.2h0M137 385.5h0M130.7 388.1h0M135.4 366.4h0M132.4 373.3h0M139.2 377.2h0M132.1 357.6h0M133.9 368.1h0M130.5 371.8h0M129.1 389.7h0M136.5 388.2h0M140 382.9h0M141 367.7h0M140.5 364.3h0M137.7 378.1h0M141.3 363h0M134.2 386.3h0M130.5 364.5h0M130.3 382.7h0M140.8 380h0M141.4 375.3h0M139.2 380.3h0M138.2 374.5h0M141 377.3h0M130.6 372.1h0M135.5 372.3h0M137.8 369.8h0M135 372.2h0M140.4 371h0M135.9 378h0M134.6 365.5h0M128.8 388h0M144 367.2h0M136.2 368.5h0M129.5 388.7h0M142.3 365.6h0M132.7 381.8h0M141.6 373.7h0M134.9 365.3h0M142.7 361.1h0M140.3 373.3h0M130.9 359.1h0M140.6 359.4h0M136.3 388.7h0M130.1 377.9h0M135.4 365.9h0M130.5 365.1h0M134.2 377.3h0M133.9 372.6h0M141.9 363.5h0M140.4 368.7h0M133.9 378.5h0M130.3 371.6h0M138.8 379.7h0M134.2 358.2h0M130.5 376.9h0M131.3 367.9h0M137 366h0M138.2 366.8h0M141.4 362.5h0M132.8 372.6h0M143.5 362.9h0M131.7 361.7h0M132 368.8h0M135 384h0M135.2 373.9h0M135 384.5h0M143.4 372.1h0M143.7 365.9h0M139.8 370.5h0M133 361.8h0M143.1 369.8h0M140 373.4h0M137.2 364.3h0M131.4 368.9h0M139.7 376.3h0M128.5 382.2h0M135.6 359.4h0M132.8 364.5h0M142.1 376.5h0M133.9 365.8h0" stroke="#f01010" stroke-width="4.2" stroke-linecap="round"/>
<path d="M143.2 359h0M144.7 384.5h0M139.6 357.9h0M151.4 366.5h0M156.1 362.1h0M142.2 387.4h0M138.3 377.7h0M143.3 350h0M140.6 385.3h0M154.1 359.1h0M142.6 349.3h0M152.1 362.5h0M140.2 366.8h0M161.1 357.4h0M139.6 376.5h0M153.4 370.5h0M140 388.7h0M138.1 353.7h0M141.8 370.7h0M148.3 372.7h0M148.1 347.1h0M143.9 352.2h0M138.6 359.7h0M138 379.3h0M157.2 365.4h0M139.3 378h0M143.9 351.7h0M139.6 365.1h0M138.6 364.3h0M150.4 372.6h0M146.3 385h0M137.5 361.5h0M151 350.9h0M142.2 349.9h0M159.5 361.1h0M146.4 371.9h0M137.8 380.3h0M159.7 360.9h0M139.1 383.1h0M154.4 363.6h0M144.6 352.7h0M157.7 362h0M144 370.7h0M144.9 379.7h0M145.2 358.7h0M143.5 349.2h0M140.5 393.2h0M136.1 385.5h0M149.8 372.7h0M150.1 365.5h0M150.6 349.5h0M160.8 350.1h0M138.9 378.6h0M141.6 383.9h0M139.3 371.6h0M130.4 336.7h0M161.7 329.5h0M162.6 335.2h0M175.9 329.1h0M141.8 346.5h0M143.7 346.5h0M148.4 349.4h0M150.3 348.4h0M156 347.5h0M135.2 352.2h0M136.1 354.1h0M142.7 355h0M146.5 351.3h0M164.5 352.2h0M171.1 356h0M173 357.9h0M174.9 360.7h0M174 363.6h0M174.9 366.4h0M165.5 362.6h0M166.4 369.2h0M167.3 373h0M160.7 374h0M164.5 378.7h0M154.1 359.8h0M157.9 361.7h0M156 365.5h0M159.8 367.3h0M148.4 380.6h0M154.1 380.6h0M148.4 385.3h0M159.8 387.2h0M138.9 384.4h0M138 392h0M138.9 394.8h0M151.3 393.9h0M138.9 399.5h0M139.9 403.3h0M132.3 401.4h0M131.4 408.1h0M230.9 274.5h0M216.2 285h0M208.4 298.3h0M234.7 307.7h0M154.1 306.5h0M176.8 316.6h0M199 315.1h0M200.5 316.5h0M161.7 330.3h0M162.5 335.1h0M176.2 329.2h0M194.7 339.7h0M156.8 347.1h0M189.9 350.7h0M210.9 356h0M164.8 352.4h0M171.2 355.5h0M172.6 357.6h0M137.9 421.3h0M152 356h0M160 357h0M168 360h0M145 370h0M150 375h0M157 372h0M162 383h0M142 398h0M134 405h0M129.5 404.5h0M131 412h0M136 411h0M153 352h0M158 351h0M170 350.5h0M178 360.5h0M168 366h0" stroke="#dc1010" stroke-width="4.0" stroke-linecap="round"/>
<line x1="61.7" y1="430" x2="241" y2="300.6" stroke="#c0303c" stroke-width="0.9"/>
<line x1="61.7" y1="396" x2="241" y2="345.6" stroke="#2a6a3a" stroke-width="0.9"/>
<rect x="61.7" y="268.5" width="179.5" height="162.10000000000002" fill="none" stroke="#333" stroke-width="1.2"/>
<line x1="79.74" y1="430.6" x2="79.74" y2="435.1" stroke="#333" stroke-width="1.2"/>
<text x="79.74" y="444" font-size="8.9" stroke="#222" stroke-width="0.15" text-anchor="middle" fill="#222">−0.2</text>
<line x1="103.3" y1="430.6" x2="103.3" y2="435.1" stroke="#333" stroke-width="1.2"/>
<text x="103.3" y="444" font-size="8.9" stroke="#222" stroke-width="0.15" text-anchor="middle" fill="#222">0.0</text>
<line x1="126.86" y1="430.6" x2="126.86" y2="435.1" stroke="#333" stroke-width="1.2"/>
<text x="126.86" y="444" font-size="8.9" stroke="#222" stroke-width="0.15" text-anchor="middle" fill="#222">0.2</text>
<line x1="150.42000000000002" y1="430.6" x2="150.42000000000002" y2="435.1" stroke="#333" stroke-width="1.2"/>
<text x="150.42000000000002" y="444" font-size="8.9" stroke="#222" stroke-width="0.15" text-anchor="middle" fill="#222">0.4</text>
<line x1="173.98" y1="430.6" x2="173.98" y2="435.1" stroke="#333" stroke-width="1.2"/>
<text x="173.98" y="444" font-size="8.9" stroke="#222" stroke-width="0.15" text-anchor="middle" fill="#222">0.6</text>
<line x1="197.54000000000002" y1="430.6" x2="197.54000000000002" y2="435.1" stroke="#333" stroke-width="1.2"/>
<text x="197.54000000000002" y="444" font-size="8.9" stroke="#222" stroke-width="0.15" text-anchor="middle" fill="#222">0.8</text>
<line x1="221.1" y1="430.6" x2="221.1" y2="435.1" stroke="#333" stroke-width="1.2"/>
<text x="221.1" y="444" font-size="8.9" stroke="#222" stroke-width="0.15" text-anchor="middle" fill="#222">1.0</text>
<line x1="57.7" y1="427.68" x2="61.7" y2="427.68" stroke="#333" stroke-width="1.2"/>
<text transform="translate(54.7,427.68) rotate(-90)" font-size="8.9" stroke="#222" stroke-width="0.15" text-anchor="middle" fill="#222">−0.4</text>
<line x1="57.7" y1="404.94" x2="61.7" y2="404.94" stroke="#333" stroke-width="1.2"/>
<text transform="translate(54.7,404.94) rotate(-90)" font-size="8.9" stroke="#222" stroke-width="0.15" text-anchor="middle" fill="#222">−0.2</text>
<line x1="57.7" y1="382.2" x2="61.7" y2="382.2" stroke="#333" stroke-width="1.2"/>
<text transform="translate(54.7,382.2) rotate(-90)" font-size="8.9" stroke="#222" stroke-width="0.15" text-anchor="middle" fill="#222">0.0</text>
<line x1="57.7" y1="359.46000000000004" x2="61.7" y2="359.46000000000004" stroke="#333" stroke-width="1.2"/>
<text transform="translate(54.7,359.46000000000004) rotate(-90)" font-size="8.9" stroke="#222" stroke-width="0.15" text-anchor="middle" fill="#222">0.2</text>
<line x1="57.7" y1="336.72" x2="61.7" y2="336.72" stroke="#333" stroke-width="1.2"/>
<text transform="translate(54.7,336.72) rotate(-90)" font-size="8.9" stroke="#222" stroke-width="0.15" text-anchor="middle" fill="#222">0.4</text>
<line x1="57.7" y1="313.98" x2="61.7" y2="313.98" stroke="#333" stroke-width="1.2"/>
<text transform="translate(54.7,313.98) rotate(-90)" font-size="8.9" stroke="#222" stroke-width="0.15" text-anchor="middle" fill="#222">0.6</text>
<line x1="57.7" y1="291.24" x2="61.7" y2="291.24" stroke="#333" stroke-width="1.2"/>
<text transform="translate(54.7,291.24) rotate(-90)" font-size="8.9" stroke="#222" stroke-width="0.15" text-anchor="middle" fill="#222">0.8</text>
<line x1="57.7" y1="268.5" x2="61.7" y2="268.5" stroke="#333" stroke-width="1.2"/>
<text transform="translate(54.7,268.5) rotate(-90)" font-size="8.9" stroke="#222" stroke-width="0.15" text-anchor="middle" fill="#222">1.0</text>
<rect x="155" y="401.7" width="84.6" height="23.1" fill="#fff" stroke="#333" stroke-width="1.1"/>
<rect x="160.4" y="408.5" width="3.8" height="3.6" fill="#cc1118"/>
<rect x="160.4" y="418.4" width="3.8" height="3.6" fill="#1b5e2a"/>
<text x="167" y="413.4" font-size="8.6" stroke="#222" stroke-width="0.15" text-anchor="start" fill="#222" textLength="68" lengthAdjust="spacingAndGlyphs">r=0.69,p&lt;2.2e−16</text>
<text x="167" y="423.2" font-size="8.6" stroke="#222" stroke-width="0.15" text-anchor="start" fill="#222" textLength="68" lengthAdjust="spacingAndGlyphs">r=0.27,p&lt;2.2e−16</text>
<text x="149.5" y="459.4" font-size="8.8" font-weight="bold" stroke="#000" stroke-width="0.32" text-anchor="middle" fill="#000">MLL difference</text>
<text x="150" y="469.6" font-size="8.8" font-weight="bold" stroke="#000" stroke-width="0.32" text-anchor="middle" fill="#000">(4 OHT − no 4 OHT)</text>
<text transform="translate(24.2,350.7) rotate(-90)" font-size="8.8" font-weight="bold" stroke="#000" stroke-width="0.32" text-anchor="middle" fill="#000">K79 difference</text>
<text transform="translate(34.6,349.9) rotate(-90)" font-size="8.8" font-weight="bold" stroke="#000" stroke-width="0.32" text-anchor="middle" fill="#000">(4 OHT − no 4 OHT)</text>
<path d="M424.1 369.1a2.1 2.1 0 1 0 4.2 0a2.1 2.1 0 1 0 -4.2 0M409.5 383.5a2.1 2.1 0 1 0 4.2 0a2.1 2.1 0 1 0 -4.2 0M422.7 373.4a2.1 2.1 0 1 0 4.2 0a2.1 2.1 0 1 0 -4.2 0M406.6 373.3a2.1 2.1 0 1 0 4.2 0a2.1 2.1 0 1 0 -4.2 0M435.5 378.4a2.1 2.1 0 1 0 4.2 0a2.1 2.1 0 1 0 -4.2 0M418.7 372.3a2.1 2.1 0 1 0 4.2 0a2.1 2.1 0 1 0 -4.2 0M421.8 375a2.1 2.1 0 1 0 4.2 0a2.1 2.1 0 1 0 -4.2 0M425.8 372.4a2.1 2.1 0 1 0 4.2 0a2.1 2.1 0 1 0 -4.2 0M430.8 377.3a2.1 2.1 0 1 0 4.2 0a2.1 2.1 0 1 0 -4.2 0M404.9 378.3a2.1 2.1 0 1 0 4.2 0a2.1 2.1 0 1 0 -4.2 0M426.2 375.2a2.1 2.1 0 1 0 4.2 0a2.1 2.1 0 1 0 -4.2 0M435.5 365.2a2.1 2.1 0 1 0 4.2 0a2.1 2.1 0 1 0 -4.2 0M431.7 377.7a2.1 2.1 0 1 0 4.2 0a2.1 2.1 0 1 0 -4.2 0M407.3 382.9a2.1 2.1 0 1 0 4.2 0a2.1 2.1 0 1 0 -4.2 0M386.8 376.7a2.1 2.1 0 1 0 4.2 0a2.1 2.1 0 1 0 -4.2 0M420.7 380.9a2.1 2.1 0 1 0 4.2 0a2.1 2.1 0 1 0 -4.2 0M400.3 386.2a2.1 2.1 0 1 0 4.2 0a2.1 2.1 0 1 0 -4.2 0M416.8 368.1a2.1 2.1 0 1 0 4.2 0a2.1 2.1 0 1 0 -4.2 0M385.3 372.4a2.1 2.1 0 1 0 4.2 0a2.1 2.1 0 1 0 -4.2 0M412.1 373.4a2.1 2.1 0 1 0 4.2 0a2.1 2.1 0 1 0 -4.2 0M393.6 377.7a2.1 2.1 0 1 0 4.2 0a2.1 2.1 0 1 0 -4.2 0M382.6 386.9a2.1 2.1 0 1 0 4.2 0a2.1 2.1 0 1 0 -4.2 0M428.2 375.5a2.1 2.1 0 1 0 4.2 0a2.1 2.1 0 1 0 -4.2 0M404.6 374a2.1 2.1 0 1 0 4.2 0a2.1 2.1 0 1 0 -4.2 0M414.1 373.6a2.1 2.1 0 1 0 4.2 0a2.1 2.1 0 1 0 -4.2 0M436.4 381.2a2.1 2.1 0 1 0 4.2 0a2.1 2.1 0 1 0 -4.2 0M421.5 380.8a2.1 2.1 0 1 0 4.2 0a2.1 2.1 0 1 0 -4.2 0M382.4 373.6a2.1 2.1 0 1 0 4.2 0a2.1 2.1 0 1 0 -4.2 0M398.6 371.7a2.1 2.1 0 1 0 4.2 0a2.1 2.1 0 1 0 -4.2 0M403.3 385.7a2.1 2.1 0 1 0 4.2 0a2.1 2.1 0 1 0 -4.2 0M428 382.3a2.1 2.1 0 1 0 4.2 0a2.1 2.1 0 1 0 -4.2 0M391.2 374.2a2.1 2.1 0 1 0 4.2 0a2.1 2.1 0 1 0 -4.2 0M379.3 376.5a2.1 2.1 0 1 0 4.2 0a2.1 2.1 0 1 0 -4.2 0M381.3 380.6a2.1 2.1 0 1 0 4.2 0a2.1 2.1 0 1 0 -4.2 0M395.9 381.3a2.1 2.1 0 1 0 4.2 0a2.1 2.1 0 1 0 -4.2 0M411.6 378.1a2.1 2.1 0 1 0 4.2 0a2.1 2.1 0 1 0 -4.2 0M395.9 382.3a2.1 2.1 0 1 0 4.2 0a2.1 2.1 0 1 0 -4.2 0M419.3 379.2a2.1 2.1 0 1 0 4.2 0a2.1 2.1 0 1 0 -4.2 0M406.2 376.5a2.1 2.1 0 1 0 4.2 0a2.1 2.1 0 1 0 -4.2 0M395.1 370.6a2.1 2.1 0 1 0 4.2 0a2.1 2.1 0 1 0 -4.2 0M405.9 379.1a2.1 2.1 0 1 0 4.2 0a2.1 2.1 0 1 0 -4.2 0M389.1 385.3a2.1 2.1 0 1 0 4.2 0a2.1 2.1 0 1 0 -4.2 0M430.6 380.2a2.1 2.1 0 1 0 4.2 0a2.1 2.1 0 1 0 -4.2 0M426.9 374.4a2.1 2.1 0 1 0 4.2 0a2.1 2.1 0 1 0 -4.2 0M388.4 375.3a2.1 2.1 0 1 0 4.2 0a2.1 2.1 0 1 0 -4.2 0M458.6 357.6a2.1 2.1 0 1 0 4.2 0a2.1 2.1 0 1 0 -4.2 0M465.5 356.3a2.1 2.1 0 1 0 4.2 0a2.1 2.1 0 1 0 -4.2 0M447.8 356.3a2.1 2.1 0 1 0 4.2 0a2.1 2.1 0 1 0 -4.2 0M447.7 354.6a2.1 2.1 0 1 0 4.2 0a2.1 2.1 0 1 0 -4.2 0M461.5 355a2.1 2.1 0 1 0 4.2 0a2.1 2.1 0 1 0 -4.2 0M447.4 358.6a2.1 2.1 0 1 0 4.2 0a2.1 2.1 0 1 0 -4.2 0M446.4 354.3a2.1 2.1 0 1 0 4.2 0a2.1 2.1 0 1 0 -4.2 0M442.8 360.6a2.1 2.1 0 1 0 4.2 0a2.1 2.1 0 1 0 -4.2 0M461 355a2.1 2.1 0 1 0 4.2 0a2.1 2.1 0 1 0 -4.2 0M439.7 350.5a2.1 2.1 0 1 0 4.2 0a2.1 2.1 0 1 0 -4.2 0M465.4 354.5a2.1 2.1 0 1 0 4.2 0a2.1 2.1 0 1 0 -4.2 0M464.1 358.7a2.1 2.1 0 1 0 4.2 0a2.1 2.1 0 1 0 -4.2 0M465.9 358.1a2.1 2.1 0 1 0 4.2 0a2.1 2.1 0 1 0 -4.2 0M452.9 358.6a2.1 2.1 0 1 0 4.2 0a2.1 2.1 0 1 0 -4.2 0M438.6 355.3a2.1 2.1 0 1 0 4.2 0a2.1 2.1 0 1 0 -4.2 0M464.4 355.6a2.1 2.1 0 1 0 4.2 0a2.1 2.1 0 1 0 -4.2 0M448 360.5a2.1 2.1 0 1 0 4.2 0a2.1 2.1 0 1 0 -4.2 0M454.1 363.8a2.1 2.1 0 1 0 4.2 0a2.1 2.1 0 1 0 -4.2 0M462.5 352.6a2.1 2.1 0 1 0 4.2 0a2.1 2.1 0 1 0 -4.2 0M445.1 356.3a2.1 2.1 0 1 0 4.2 0a2.1 2.1 0 1 0 -4.2 0M449.6 355.4a2.1 2.1 0 1 0 4.2 0a2.1 2.1 0 1 0 -4.2 0M464.3 355.9a2.1 2.1 0 1 0 4.2 0a2.1 2.1 0 1 0 -4.2 0M454.2 359.3a2.1 2.1 0 1 0 4.2 0a2.1 2.1 0 1 0 -4.2 0M444.5 354.7a2.1 2.1 0 1 0 4.2 0a2.1 2.1 0 1 0 -4.2 0M440.6 351.1a2.1 2.1 0 1 0 4.2 0a2.1 2.1 0 1 0 -4.2 0M463.7 360.9a2.1 2.1 0 1 0 4.2 0a2.1 2.1 0 1 0 -4.2 0M447.7 358.3a2.1 2.1 0 1 0 4.2 0a2.1 2.1 0 1 0 -4.2 0M441.9 366.8a2.1 2.1 0 1 0 4.2 0a2.1 2.1 0 1 0 -4.2 0M460.3 361.8a2.1 2.1 0 1 0 4.2 0a2.1 2.1 0 1 0 -4.2 0M450.7 358.6a2.1 2.1 0 1 0 4.2 0a2.1 2.1 0 1 0 -4.2 0M450.2 338.8a2.1 2.1 0 1 0 4.2 0a2.1 2.1 0 1 0 -4.2 0M426.1 338.7a2.1 2.1 0 1 0 4.2 0a2.1 2.1 0 1 0 -4.2 0M452.2 340.6a2.1 2.1 0 1 0 4.2 0a2.1 2.1 0 1 0 -4.2 0M440.7 341.6a2.1 2.1 0 1 0 4.2 0a2.1 2.1 0 1 0 -4.2 0M431 339a2.1 2.1 0 1 0 4.2 0a2.1 2.1 0 1 0 -4.2 0M447.3 335.8a2.1 2.1 0 1 0 4.2 0a2.1 2.1 0 1 0 -4.2 0M447.7 334.2a2.1 2.1 0 1 0 4.2 0a2.1 2.1 0 1 0 -4.2 0M435.8 339.2a2.1 2.1 0 1 0 4.2 0a2.1 2.1 0 1 0 -4.2 0M421.3 342.3a2.1 2.1 0 1 0 4.2 0a2.1 2.1 0 1 0 -4.2 0M432.2 335.7a2.1 2.1 0 1 0 4.2 0a2.1 2.1 0 1 0 -4.2 0M431.1 339.3a2.1 2.1 0 1 0 4.2 0a2.1 2.1 0 1 0 -4.2 0M431.8 334a2.1 2.1 0 1 0 4.2 0a2.1 2.1 0 1 0 -4.2 0M419.3 340.4a2.1 2.1 0 1 0 4.2 0a2.1 2.1 0 1 0 -4.2 0M420.8 336.3a2.1 2.1 0 1 0 4.2 0a2.1 2.1 0 1 0 -4.2 0M366 388.3a2.1 2.1 0 1 0 4.2 0a2.1 2.1 0 1 0 -4.2 0M370.6 384.9a2.1 2.1 0 1 0 4.2 0a2.1 2.1 0 1 0 -4.2 0M316.2 387.8a2.1 2.1 0 1 0 4.2 0a2.1 2.1 0 1 0 -4.2 0M353 385.8a2.1 2.1 0 1 0 4.2 0a2.1 2.1 0 1 0 -4.2 0M317 386.2a2.1 2.1 0 1 0 4.2 0a2.1 2.1 0 1 0 -4.2 0M330.6 386.9a2.1 2.1 0 1 0 4.2 0a2.1 2.1 0 1 0 -4.2 0M376.7 385a2.1 2.1 0 1 0 4.2 0a2.1 2.1 0 1 0 -4.2 0M320.6 387.5a2.1 2.1 0 1 0 4.2 0a2.1 2.1 0 1 0 -4.2 0M322.6 385.1a2.1 2.1 0 1 0 4.2 0a2.1 2.1 0 1 0 -4.2 0M343.1 388.9a2.1 2.1 0 1 0 4.2 0a2.1 2.1 0 1 0 -4.2 0" fill="#f4f4f4" stroke="#c0c0c0" stroke-width="0.9"/>
<polygon points="314.5,336.5 330,335.5 360,335 385,335 400,336 415,337.6 430,341 445,346 455,350 461,354.5 455,358.5 445,362 430,368 415,372.4 400,376 380,378 365,383 355,387 340,388 314.5,387.5 322.5,361" fill="#c8c8c8" stroke="#c8c8c8" stroke-width="2" stroke-linejoin="round"/>
<path d="M314.2 336.2h0M318.3 335.7h0M322.1 336.3h0M325.8 336.2h0M329.5 334.9h0M334 335.4h0M338.2 334.7h0M341.6 335.6h0M344.8 334.7h0M348.9 335.6h0M352.5 335.1h0M356.5 335.2h0M359.9 334.5h0M363.5 335.1h0M367.8 335.8h0M370.8 334.7h0M373.8 335.2h0M378.2 334.6h0M381.7 335.8h0M384.8 335.7h0M388.6 335.5h0M393.1 335h0M396 336.5h0M399.3 335.7h0M403.7 336.8h0M407.7 337.5h0M411.5 336.4h0M414.3 336.9h0M418.6 337.7h0M422.5 339.5h0M425.8 340.7h0M429.9 341.7h0M433.5 342.4h0M437.6 343.1h0M441.7 344h0M444.6 345.7h0M448.9 347.3h0M450.9 348.3h0M455.2 350.5h0M457.4 352.7h0M460.8 354.5h0M457.9 356.4h0M455.8 359.2h0M452.3 360h0M448.7 360.3h0M444.3 362.5h0M441.5 363.7h0M437.2 364.6h0M434.4 366.6h0M429.2 367.7h0M426 368.4h0M423.3 370.8h0M419.3 370.5h0M414.9 371.8h0M411.6 373.8h0M408 374.7h0M403.1 374.3h0M399.3 376.5h0M396.5 376.4h0M391.6 377.4h0M387.4 376.9h0M383.2 378.4h0M379.9 378.4h0M376.7 379.4h0M373.3 380.9h0M369.4 382.5h0M364.3 383.4h0M361.2 384.1h0M358.1 386.4h0M354.3 386.9h0M350.7 388h0M347.5 387.8h0M343.8 388.2h0M339.7 387.9h0M336.7 388.3h0M333.3 387.6h0M329.6 388.2h0M325.5 387.6h0M321.9 387h0M317.5 387.3h0M313.9 386.8h0M316 384.1h0M317 379.5h0M318.3 376.7h0M319.3 371.9h0M320.3 368.4h0M321 364.2h0M323.1 361.2h0M322 357h0M319.8 354h0M318.4 350.2h0M318 347h0M317.4 343.6h0M315.9 340.1h0" stroke="#c8c8c8" stroke-width="4.4" stroke-linecap="round"/>
<path d="M336.6 336.1h0M323.2 347.9h0M330.3 345.5h0M331.9 347.9h0M334.2 342.4h0M338.2 345.5h0M331.1 348.7h0M332.6 354.2h0M339 355h0M340.5 356.6h0M343.7 352.6h0M347.6 354.2h0M348.4 355.8h0M337.4 362.9h0M331.9 369.2h0M335.8 375.5h0M336.6 378.7h0M351.6 375.5h0M350.8 359.8h0M352.4 362.9h0M355.5 364.5h0M359.5 370.8h0M351.6 349.5h0M354 348.7h0M356.3 349.5h0M359.5 347.9h0M357.1 343.2h0M359.5 340h0M360.3 353.4h0M361.9 355h0M362.7 363.7h0M459.2 352.6h0M455 354h0M452 351h0M423.2 357.1h0M368.6 361.9h0M412.2 361.1h0M369.1 367.4h0M342.4 358.3h0M383 352.5h0M339.7 361.1h0M383.1 357.3h0M395.7 365h0M391.6 356.2h0M427.7 358.6h0M418.5 356.3h0M380.5 357h0M435.2 351.1h0M425.9 358.6h0M434 364.6h0M405.6 364.4h0M367.3 351.7h0M413.4 368.3h0M410.1 350.6h0M359.7 351h0M347 366.4h0M361 357.7h0M390.5 351.5h0M377.2 367.6h0M427.2 344.2h0M393.2 363.4h0M406.5 354.3h0M413.4 357.9h0M364.8 365.8h0M423.6 359h0M384.7 361.5h0M411 349.9h0M429.4 348.7h0M419.7 359.8h0M373.8 367.8h0M381.4 359.2h0M390.8 359.9h0M433.3 354.9h0M379.1 353.8h0M407.6 354.9h0M363.9 356.6h0M405.9 354h0M421.4 354.8h0M381.2 347.6h0M390 351.1h0M442.3 349.5h0M404.3 362.8h0M404.2 355.8h0M416.7 342.3h0M420.3 359.4h0M397.5 368.4h0M380.3 358.2h0M416.2 350.8h0M401 344.4h0M417.4 363.2h0M383.4 356.9h0M398 357.6h0M391.4 367h0M403.8 358.6h0M387.4 365.2h0M360 363.4h0M374.1 349.2h0M401.7 359.9h0M403.6 353.3h0M347.8 360.1h0M405.5 364.2h0M390.9 355.6h0M388.3 356.5h0M423.6 346.5h0M341.8 361.1h0M392.3 361.5h0M394.6 339.4h0M397.5 372.4h0M406.6 369.6h0M407.8 354.1h0M426.7 355.8h0M444.5 359.1h0M403.9 354.1h0M419 355.4h0M392.6 352.4h0M437.7 351.2h0M392.3 353.9h0M379.5 375.8h0M367.1 359.1h0M378.2 358h0M395.7 353.6h0M422.4 353.3h0M367.3 341.5h0M433.8 346.7h0M399.8 369.9h0M434 350.1h0M371.6 358h0M401.4 362.1h0M431.9 358.7h0M406.5 360.4h0M400.3 353.1h0M399.5 362.5h0M438.2 361.4h0M417.3 344.7h0M430.3 356.3h0M443.7 354.6h0M431.5 355.4h0M373.3 357.3h0M402.5 361.9h0M407 347.2h0M370.4 359.5h0M416.8 349.5h0M427.3 355.2h0M359.8 344.8h0M393.8 350.4h0M418.9 359.1h0M435.8 363.9h0M433.6 353h0M398.7 358.3h0M402.8 358.3h0M384.8 351.4h0M364.1 357.9h0M419.5 338.8h0M379.6 366.5h0M432.2 357.4h0M362.7 359.8h0M361 338.6h0M391.2 372.5h0M416.7 367.6h0M404.2 359.3h0M364.5 348.4h0M389 352.3h0M427 355.4h0M365.7 352.7h0M356.6 355.9h0M447 360.1h0M423.2 353.5h0M408.1 362.1h0M367.4 358h0M408.9 361.6h0M409.8 357.8h0M344.3 356h0M447.9 356.5h0M430.9 364h0M366.5 362.1h0M405.7 338.5h0M408.8 369.3h0M409.1 357.5h0M421.3 352.6h0M379.5 356.5h0M411.9 360.8h0M382.2 359h0M423.6 348.9h0M445.8 354.6h0M406.9 357.8h0M392.2 346.2h0M410.8 362h0M388.4 367.8h0M399.9 356.6h0M402.2 355.2h0" stroke="#a81010" stroke-width="3.4" stroke-linecap="round"/>
<path d="M336.6 336.1h0M323.2 347.9h0M330.3 345.5h0M331.9 347.9h0M334.2 342.4h0M338.2 345.5h0M331.1 348.7h0M332.6 354.2h0M339 355h0M340.5 356.6h0M343.7 352.6h0M347.6 354.2h0M348.4 355.8h0M337.4 362.9h0M331.9 369.2h0M335.8 375.5h0M336.6 378.7h0M351.6 375.5h0M350.8 359.8h0M352.4 362.9h0M355.5 364.5h0M359.5 370.8h0M351.6 349.5h0M354 348.7h0M356.3 349.5h0M359.5 347.9h0M357.1 343.2h0M359.5 340h0M360.3 353.4h0M361.9 355h0M362.7 363.7h0M459.2 352.6h0M455 354h0M452 351h0M423.2 357.1h0M368.6 361.9h0M412.2 361.1h0M369.1 367.4h0M342.4 358.3h0M383 352.5h0M339.7 361.1h0M383.1 357.3h0M395.7 365h0M391.6 356.2h0M427.7 358.6h0M418.5 356.3h0M380.5 357h0M435.2 351.1h0M425.9 358.6h0M434 364.6h0M405.6 364.4h0M367.3 351.7h0M413.4 368.3h0M410.1 350.6h0M359.7 351h0M347 366.4h0M361 357.7h0M390.5 351.5h0M377.2 367.6h0M427.2 344.2h0M393.2 363.4h0M406.5 354.3h0M413.4 357.9h0M364.8 365.8h0M423.6 359h0M384.7 361.5h0M411 349.9h0M429.4 348.7h0M419.7 359.8h0M373.8 367.8h0M381.4 359.2h0M390.8 359.9h0M433.3 354.9h0M379.1 353.8h0M407.6 354.9h0M363.9 356.6h0M405.9 354h0M421.4 354.8h0M381.2 347.6h0M390 351.1h0M442.3 349.5h0M404.3 362.8h0M404.2 355.8h0M416.7 342.3h0M420.3 359.4h0M397.5 368.4h0M380.3 358.2h0M416.2 350.8h0M401 344.4h0M417.4 363.2h0M383.4 356.9h0M398 357.6h0M391.4 367h0M403.8 358.6h0M387.4 365.2h0M360 363.4h0M374.1 349.2h0M401.7 359.9h0M403.6 353.3h0M347.8 360.1h0M405.5 364.2h0M390.9 355.6h0M388.3 356.5h0M423.6 346.5h0M341.8 361.1h0M392.3 361.5h0M394.6 339.4h0M397.5 372.4h0M406.6 369.6h0M407.8 354.1h0M426.7 355.8h0M444.5 359.1h0M403.9 354.1h0M419 355.4h0M392.6 352.4h0M437.7 351.2h0M392.3 353.9h0M379.5 375.8h0M367.1 359.1h0M378.2 358h0M395.7 353.6h0M422.4 353.3h0M367.3 341.5h0M433.8 346.7h0M399.8 369.9h0M434 350.1h0M371.6 358h0M401.4 362.1h0M431.9 358.7h0M406.5 360.4h0M400.3 353.1h0M399.5 362.5h0M438.2 361.4h0M417.3 344.7h0M430.3 356.3h0M443.7 354.6h0M431.5 355.4h0M373.3 357.3h0M402.5 361.9h0M407 347.2h0M370.4 359.5h0M416.8 349.5h0M427.3 355.2h0M359.8 344.8h0M393.8 350.4h0M418.9 359.1h0M435.8 363.9h0M433.6 353h0M398.7 358.3h0M402.8 358.3h0M384.8 351.4h0M364.1 357.9h0M419.5 338.8h0M379.6 366.5h0M432.2 357.4h0M362.7 359.8h0M361 338.6h0M391.2 372.5h0M416.7 367.6h0M404.2 359.3h0M364.5 348.4h0M389 352.3h0M427 355.4h0M365.7 352.7h0M356.6 355.9h0M447 360.1h0M423.2 353.5h0M408.1 362.1h0M367.4 358h0M408.9 361.6h0M409.8 357.8h0M344.3 356h0M447.9 356.5h0M430.9 364h0M366.5 362.1h0M405.7 338.5h0M408.8 369.3h0M409.1 357.5h0M421.3 352.6h0M379.5 356.5h0M411.9 360.8h0M382.2 359h0M423.6 348.9h0M445.8 354.6h0M406.9 357.8h0M392.2 346.2h0M410.8 362h0M388.4 367.8h0M399.9 356.6h0M402.2 355.2h0" stroke="#f81010" stroke-width="2.6" stroke-linecap="round"/>
<path d="M325 272.6h0M310.8 296.6h0M353.5 295.8h0M309.4 311.9h0M317.7 313.1h0M321.7 315.3h0M326.9 317.6h0M317.7 319.7h0M344.5 314.1h0M349.7 311.5h0M368.8 321h0M384 315.2h0M384.3 321.4h0M313.4 331.4h0M318.6 330h0M320.3 331.8h0M324.6 328.3h0M329 326.6h0M329.8 330.4h0M333.3 332.6h0M337.6 327.4h0M340.2 329.2h0M343.7 330.9h0M346.3 325.7h0M348 332.6h0M353.2 331.8h0M357.5 330.9h0M368.8 330.9h0M371.4 330h0M377.4 327.4h0M381.7 330h0M384.3 328.3h0M387.8 330.9h0M390.4 331.8h0M450.4 330.9h0M385 315.3h0M385.9 321.4h0M386.7 329.2h0M391.1 330h0M395.4 332.3h0M316 331h0M322 333h0M326 331h0M335 330h0M338 332.5h0M351 329h0M374 332.5h0M379 331h0M310 333h0M314.2 391.9h0M316 394.5h0M318.6 395.4h0M320.3 392.8h0M323.8 392.3h0M330.7 393.7h0M331.6 398.8h0M336.7 391.9h0M339.3 392.8h0M342.8 391.9h0M344.5 394.5h0M346.3 398h0M348 399.7h0M349.7 395.4h0M354.9 391.9h0M355.8 395.4h0M358.4 397.1h0M361 392.8h0M362.7 398h0M366.2 391.9h0M367.9 392.8h0M377.4 392.8h0M382.6 391.1h0M387.5 394.5h0M309.6 402h0M318.2 408h0M330.7 399.7h0M338.5 402.3h0M336.7 407.5h0M344.5 406.6h0M344.5 410.6h0M354.6 407.5h0M359.2 402.3h0M368.8 403.2h0M371.4 399.7h0M383 403.7h0M320.3 417.5h0M324.1 423.4h0M339.9 421.3h0M389.5 411.8h0M392.1 413.6h0M386.7 393.7h0M385 403.7h0M390.2 411.8h0M392.8 413h0M412.3 391.1h0M414.8 399.7h0M424.8 416.7h0M334 395h0M341 396h0M352 393h0M369 395.5h0M372 393h0M312 394h0M380 394h0" stroke="#2f4fc0" stroke-width="6.2" stroke-linecap="round"/>
<path d="M325 272.6h0M310.8 296.6h0M353.5 295.8h0M309.4 311.9h0M317.7 313.1h0M321.7 315.3h0M326.9 317.6h0M317.7 319.7h0M344.5 314.1h0M349.7 311.5h0M368.8 321h0M384 315.2h0M384.3 321.4h0M313.4 331.4h0M318.6 330h0M320.3 331.8h0M324.6 328.3h0M329 326.6h0M329.8 330.4h0M333.3 332.6h0M337.6 327.4h0M340.2 329.2h0M343.7 330.9h0M346.3 325.7h0M348 332.6h0M353.2 331.8h0M357.5 330.9h0M368.8 330.9h0M371.4 330h0M377.4 327.4h0M381.7 330h0M384.3 328.3h0M387.8 330.9h0M390.4 331.8h0M450.4 330.9h0M385 315.3h0M385.9 321.4h0M386.7 329.2h0M391.1 330h0M395.4 332.3h0M316 331h0M322 333h0M326 331h0M335 330h0M338 332.5h0M351 329h0M374 332.5h0M379 331h0M310 333h0M314.2 391.9h0M316 394.5h0M318.6 395.4h0M320.3 392.8h0M323.8 392.3h0M330.7 393.7h0M331.6 398.8h0M336.7 391.9h0M339.3 392.8h0M342.8 391.9h0M344.5 394.5h0M346.3 398h0M348 399.7h0M349.7 395.4h0M354.9 391.9h0M355.8 395.4h0M358.4 397.1h0M361 392.8h0M362.7 398h0M366.2 391.9h0M367.9 392.8h0M377.4 392.8h0M382.6 391.1h0M387.5 394.5h0M309.6 402h0M318.2 408h0M330.7 399.7h0M338.5 402.3h0M336.7 407.5h0M344.5 406.6h0M344.5 410.6h0M354.6 407.5h0M359.2 402.3h0M368.8 403.2h0M371.4 399.7h0M383 403.7h0M320.3 417.5h0M324.1 423.4h0M339.9 421.3h0M389.5 411.8h0M392.1 413.6h0M386.7 393.7h0M385 403.7h0M390.2 411.8h0M392.8 413h0M412.3 391.1h0M414.8 399.7h0M424.8 416.7h0M334 395h0M341 396h0M352 393h0M369 395.5h0M372 393h0M312 394h0M380 394h0" stroke="#4169e1" stroke-width="5.0" stroke-linecap="round"/>
<path d="M365.7 300.1h0M361.8 314.1h0M368.8 312.7h0M373.6 312.7h0M359.2 321h0M377.4 321h0M366.2 324.8h0M434 308.1h0M414.1 317.9h0M404.9 323.6h0M409.2 329.7h0M403.7 331.4h0" stroke="#4a3aa8" stroke-width="6.2" stroke-linecap="round"/>
<path d="M365.7 300.1h0M361.8 314.1h0M368.8 312.7h0M373.6 312.7h0M359.2 321h0M377.4 321h0M366.2 324.8h0M434 308.1h0M414.1 317.9h0M404.9 323.6h0M409.2 329.7h0M403.7 331.4h0" stroke="#8a3a8e" stroke-width="4.6" stroke-linecap="round"/>
<rect x="303" y="266.3" width="171.5" height="162.89999999999998" fill="none" stroke="#333" stroke-width="1.2"/>
<line x1="325.1" y1="429.2" x2="325.1" y2="432.7" stroke="#333" stroke-width="1.2"/>
<text x="325.1" y="441.9" font-size="9.2" stroke="#222" stroke-width="0.15" text-anchor="middle" fill="#222">7</text>
<line x1="348.3" y1="429.2" x2="348.3" y2="432.7" stroke="#333" stroke-width="1.2"/>
<text x="348.3" y="441.9" font-size="9.2" stroke="#222" stroke-width="0.15" text-anchor="middle" fill="#222">8</text>
<line x1="371.5" y1="429.2" x2="371.5" y2="432.7" stroke="#333" stroke-width="1.2"/>
<text x="371.5" y="441.9" font-size="9.2" stroke="#222" stroke-width="0.15" text-anchor="middle" fill="#222">9</text>
<line x1="394.70000000000005" y1="429.2" x2="394.70000000000005" y2="432.7" stroke="#333" stroke-width="1.2"/>
<text x="394.70000000000005" y="441.9" font-size="9.2" stroke="#222" stroke-width="0.15" text-anchor="middle" fill="#222">10</text>
<line x1="417.90000000000003" y1="429.2" x2="417.90000000000003" y2="432.7" stroke="#333" stroke-width="1.2"/>
<text x="417.90000000000003" y="441.9" font-size="9.2" stroke="#222" stroke-width="0.15" text-anchor="middle" fill="#222">11</text>
<line x1="441.1" y1="429.2" x2="441.1" y2="432.7" stroke="#333" stroke-width="1.2"/>
<text x="441.1" y="441.9" font-size="9.2" stroke="#222" stroke-width="0.15" text-anchor="middle" fill="#222">12</text>
<line x1="464.3" y1="429.2" x2="464.3" y2="432.7" stroke="#333" stroke-width="1.2"/>
<text x="464.3" y="441.9" font-size="9.2" stroke="#222" stroke-width="0.15" text-anchor="middle" fill="#222">13</text>
<line x1="298.5" y1="420.5" x2="303" y2="420.5" stroke="#333" stroke-width="1.2"/>
<text transform="translate(296.5,420.5) rotate(-90)" font-size="9.2" stroke="#222" stroke-width="0.15" text-anchor="middle" fill="#222">−2</text>
<line x1="298.5" y1="391.1" x2="303" y2="391.1" stroke="#333" stroke-width="1.2"/>
<text transform="translate(296.5,391.1) rotate(-90)" font-size="9.2" stroke="#222" stroke-width="0.15" text-anchor="middle" fill="#222">−1</text>
<line x1="298.5" y1="361.7" x2="303" y2="361.7" stroke="#333" stroke-width="1.2"/>
<text transform="translate(296.5,361.7) rotate(-90)" font-size="9.2" stroke="#222" stroke-width="0.15" text-anchor="middle" fill="#222">0</text>
<line x1="298.5" y1="332.3" x2="303" y2="332.3" stroke="#333" stroke-width="1.2"/>
<text transform="translate(296.5,332.3) rotate(-90)" font-size="9.2" stroke="#222" stroke-width="0.15" text-anchor="middle" fill="#222">1</text>
<line x1="298.5" y1="302.9" x2="303" y2="302.9" stroke="#333" stroke-width="1.2"/>
<text transform="translate(296.5,302.9) rotate(-90)" font-size="9.2" stroke="#222" stroke-width="0.15" text-anchor="middle" fill="#222">2</text>
<line x1="298.5" y1="273.5" x2="303" y2="273.5" stroke="#333" stroke-width="1.2"/>
<text transform="translate(296.5,273.5) rotate(-90)" font-size="9.2" stroke="#222" stroke-width="0.15" text-anchor="middle" fill="#222">3</text>
<text x="391.3" y="458" font-size="8.8" font-weight="bold" stroke="#000" stroke-width="0.32" text-anchor="middle" fill="#000">Average expression</text>
<text x="390.8" y="468.1" font-size="8.8" font-weight="bold" stroke="#000" stroke-width="0.32" text-anchor="middle" fill="#000">(4 OHT / no 4 OHT)</text>
<text transform="translate(267.5,347.8) rotate(-90)" font-size="8.8" font-weight="bold" stroke="#000" stroke-width="0.32" text-anchor="middle" fill="#000">Expression difference</text>
<text transform="translate(278.1,346.6) rotate(-90)" font-size="8.8" font-weight="bold" stroke="#000" stroke-width="0.32" text-anchor="middle" fill="#000">(4 OHT − no 4 OHT)</text>
</g></svg></div>
</body></html>
